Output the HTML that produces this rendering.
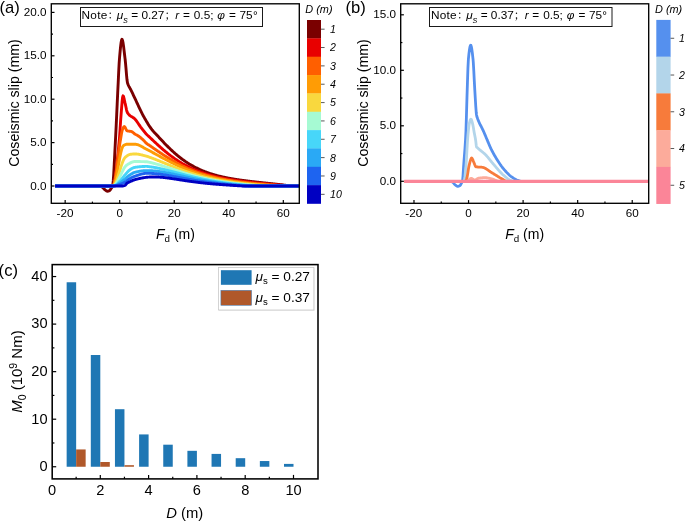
<!DOCTYPE html>
<html><head><meta charset="utf-8"><title>figure</title>
<style>html,body{margin:0;padding:0;background:#fff}svg{display:block;will-change:transform}</style></head>
<body>
<svg width="685" height="522" viewBox="0 0 685 522" font-family="'Liberation Sans', 'Noto Sans CJK SC', sans-serif" fill="#000">
<rect width="685" height="522" fill="#fff"/>
<defs><clipPath id="ca"><rect x="51.30" y="3.80" width="248.00" height="199.50"/></clipPath><clipPath id="cb"><rect x="400.70" y="3.80" width="248.00" height="199.50"/></clipPath></defs>
<g clip-path="url(#ca)">
<path d="M55.07 186.00 L99.79 186.00 L100.07 186.02 L100.56 186.15 L101.05 186.37 L101.54 186.65 L102.02 186.97 L102.51 187.30 L102.52 187.30 L103.00 187.71 L103.49 188.24 L103.98 188.82 L104.47 189.37 L104.96 189.81 L104.97 189.82 L105.45 190.17 L105.94 190.53 L106.43 190.85 L106.92 191.09 L107.41 191.20 L107.51 191.21 L107.89 191.18 L108.38 191.06 L108.87 190.88 L109.36 190.65 L109.61 190.51 L109.85 190.34 L110.34 189.75 L110.83 189.00 L111.25 188.34 L111.32 188.24 L111.81 187.58 L112.30 186.76 L112.61 186.00 L112.79 185.24 L113.27 180.66 L113.76 173.28 L114.25 164.11 L114.74 154.20 L115.23 144.55 L115.34 142.60 L115.72 135.32 L116.21 125.24 L116.70 114.61 L117.19 103.83 L117.68 93.27 L118.06 85.31 L118.17 83.25 L118.65 72.79 L119.14 63.32 L119.43 59.27 L119.63 56.88 L120.12 51.34 L120.61 46.37 L121.10 42.42 L121.59 39.94 L121.96 39.31 L122.08 39.35 L122.57 40.48 L123.06 42.87 L123.55 46.18 L124.03 50.10 L124.52 54.27 L125.01 58.37 L125.13 59.27 L125.50 62.78 L125.99 68.47 L126.48 74.42 L126.97 79.55 L127.44 82.71 L127.46 82.76 L127.95 84.21 L128.04 84.44 L128.44 85.34 L128.93 86.34 L129.42 87.26 L129.90 88.13 L130.39 89.00 L130.88 89.93 L130.96 90.09 L131.37 90.92 L131.86 91.92 L132.35 92.95 L132.84 93.98 L133.33 95.02 L133.82 96.06 L134.31 97.10 L134.80 98.14 L135.05 98.68 L135.28 99.16 L135.77 100.20 L136.26 101.25 L136.75 102.30 L137.24 103.36 L137.73 104.42 L138.22 105.49 L138.71 106.54 L139.20 107.60 L139.69 108.64 L140.18 109.67 L140.66 110.69 L141.15 111.69 L141.64 112.67 L142.13 113.63 L142.62 114.56 L143.11 115.47 L143.23 115.69 L143.60 116.35 L144.09 117.22 L144.58 118.09 L145.07 118.95 L145.56 119.80 L146.04 120.64 L146.53 121.47 L147.02 122.29 L147.51 123.10 L148.00 123.89 L148.49 124.67 L148.98 125.43 L149.47 126.18 L149.96 126.91 L150.45 127.62 L150.94 128.30 L151.43 128.97 L151.91 129.62 L152.40 130.24 L152.56 130.44 L152.89 130.84 L153.38 131.38 L153.87 131.90 L154.36 132.40 L154.85 132.90 L155.29 133.36 L155.34 133.42 L155.83 133.95 L156.32 134.48 L156.81 135.01 L157.29 135.54 L157.78 136.07 L158.01 136.32 L158.27 136.60 L158.76 137.13 L159.25 137.66 L159.74 138.19 L160.23 138.72 L160.72 139.25 L160.74 139.27 L161.21 139.77 L161.70 140.29 L162.19 140.82 L162.67 141.33 L163.16 141.85 L163.47 142.17 L163.65 142.37 L164.14 142.88 L164.63 143.39 L165.12 143.90 L165.61 144.40 L166.10 144.90 L166.20 145.00 L166.59 145.40 L167.08 145.89 L167.57 146.38 L168.05 146.87 L168.54 147.36 L168.92 147.73 L169.03 147.84 L169.52 148.31 L170.01 148.78 L170.50 149.25 L170.99 149.72 L171.48 150.18 L171.65 150.34 L171.97 150.64 L172.46 151.09 L172.95 151.54 L173.44 151.98 L173.92 152.42 L174.38 152.82 L174.41 152.86 L174.90 153.29 L175.39 153.72 L175.88 154.14 L176.37 154.56 L176.86 154.97 L177.10 155.17 L177.35 155.38 L177.84 155.78 L178.33 156.18 L178.82 156.58 L179.30 156.97 L179.79 157.36 L179.83 157.39 L180.28 157.74 L180.77 158.12 L181.26 158.49 L181.75 158.86 L182.24 159.22 L182.56 159.46 L182.73 159.58 L183.22 159.94 L183.71 160.29 L184.20 160.63 L184.68 160.97 L185.17 161.31 L185.28 161.39 L185.66 161.65 L186.15 161.97 L186.64 162.30 L187.13 162.62 L187.62 162.93 L188.01 163.18 L188.11 163.25 L188.60 163.55 L189.09 163.86 L189.58 164.16 L190.06 164.45 L190.55 164.74 L190.74 164.85 L191.04 165.03 L191.53 165.31 L192.02 165.59 L192.51 165.87 L193.00 166.14 L193.47 166.39 L193.49 166.41 L193.98 166.67 L194.47 166.93 L194.96 167.19 L195.45 167.44 L195.93 167.69 L196.19 167.82 L196.42 167.93 L196.91 168.17 L197.40 168.41 L197.89 168.65 L198.38 168.88 L198.87 169.11 L198.92 169.13 L199.36 169.33 L199.85 169.55 L200.34 169.77 L200.83 169.99 L201.31 170.20 L201.65 170.34 L201.80 170.41 L202.29 170.61 L202.78 170.81 L203.27 171.01 L203.76 171.21 L204.25 171.40 L204.37 171.45 L204.74 171.59 L205.23 171.78 L205.72 171.97 L206.21 172.15 L206.69 172.33 L207.10 172.48 L207.18 172.51 L207.67 172.68 L208.16 172.85 L208.65 173.02 L209.14 173.19 L209.63 173.35 L209.83 173.42 L210.12 173.51 L210.61 173.67 L211.10 173.83 L211.59 173.98 L212.07 174.13 L212.55 174.28 L212.56 174.28 L213.05 174.43 L213.54 174.58 L214.03 174.72 L214.52 174.86 L215.01 175.00 L215.28 175.07 L215.50 175.14 L215.99 175.27 L216.48 175.40 L216.97 175.53 L217.46 175.66 L217.94 175.79 L218.01 175.81 L218.43 175.91 L218.92 176.04 L219.41 176.16 L219.90 176.28 L220.39 176.40 L220.74 176.48 L220.88 176.51 L221.37 176.63 L221.86 176.74 L222.35 176.85 L222.84 176.96 L223.32 177.07 L223.46 177.10 L223.81 177.18 L224.30 177.28 L224.79 177.39 L225.28 177.49 L225.77 177.59 L226.19 177.68 L226.26 177.69 L226.75 177.79 L227.24 177.88 L227.73 177.98 L228.22 178.07 L228.70 178.17 L228.92 178.21 L229.19 178.26 L229.68 178.35 L230.17 178.44 L230.66 178.53 L231.15 178.61 L231.64 178.70 L231.64 178.70 L232.13 178.78 L232.62 178.87 L233.11 178.95 L233.60 179.03 L234.08 179.11 L234.37 179.16 L234.57 179.19 L235.06 179.27 L235.55 179.35 L236.04 179.43 L236.53 179.50 L237.02 179.58 L237.10 179.59 L237.51 179.65 L238.00 179.73 L238.49 179.80 L238.98 179.87 L239.47 179.94 L239.82 179.99 L239.95 180.01 L240.44 180.08 L240.93 180.15 L241.42 180.22 L241.91 180.29 L242.40 180.35 L242.55 180.37 L242.89 180.42 L243.38 180.48 L243.87 180.55 L244.36 180.61 L244.85 180.68 L245.28 180.73 L245.33 180.74 L245.82 180.80 L246.31 180.87 L246.80 180.93 L247.29 180.99 L247.78 181.05 L248.01 181.08 L248.27 181.11 L248.76 181.17 L249.25 181.23 L249.74 181.29 L250.23 181.34 L250.71 181.40 L250.73 181.41 L251.20 181.46 L251.69 181.52 L252.18 181.58 L252.67 181.63 L253.16 181.69 L253.46 181.72 L253.65 181.74 L254.14 181.80 L254.63 181.86 L255.12 181.91 L255.61 181.97 L256.09 182.02 L256.19 182.03 L256.58 182.07 L257.07 182.13 L257.56 182.18 L258.05 182.24 L258.54 182.29 L258.91 182.33 L259.03 182.34 L259.52 182.40 L260.01 182.45 L260.50 182.50 L260.99 182.56 L261.48 182.61 L261.64 182.63 L261.96 182.66 L262.45 182.71 L262.94 182.77 L263.43 182.82 L263.92 182.87 L264.37 182.92 L264.41 182.92 L264.90 182.97 L265.39 183.03 L265.88 183.08 L266.37 183.13 L266.86 183.18 L267.09 183.21 L267.34 183.23 L267.83 183.29 L268.32 183.34 L268.81 183.39 L269.30 183.44 L269.79 183.49 L269.82 183.50 L270.28 183.54 L270.77 183.60 L271.26 183.65 L271.75 183.70 L272.24 183.75 L272.55 183.78 L272.72 183.80 L273.21 183.86 L273.70 183.91 L274.19 183.96 L274.68 184.01 L275.17 184.06 L275.28 184.07 L275.66 184.11 L276.15 184.17 L276.64 184.22 L277.13 184.27 L277.62 184.32 L278.00 184.36 L278.10 184.37 L278.59 184.43 L279.08 184.48 L279.57 184.53 L280.06 184.58 L280.55 184.64 L280.73 184.65 L281.04 184.69 L281.53 184.75 L282.02 184.81 L282.51 184.87 L283.00 184.94 L283.49 185.01 L283.97 185.08 L284.46 185.15 L284.95 185.22 L285.44 185.30 L285.93 185.37 L286.42 185.44 L286.91 185.51 L287.40 185.57 L287.89 185.64 L288.38 185.70 L288.87 185.75 L289.35 185.81 L289.84 185.85 L290.33 185.89 L290.82 185.93 L291.31 185.96 L291.80 185.98 L292.29 185.99 L292.78 186.00 L299.14 186.00" fill="none" stroke="#7A0000" stroke-width="2.90" stroke-linejoin="round" stroke-linecap="butt"/>
<path d="M55.07 186.00 L112.88 186.00 L113.27 185.73 L113.76 184.70 L114.25 182.94 L114.74 180.53 L115.23 177.55 L115.72 174.07 L116.21 170.15 L116.70 165.87 L117.19 161.29 L117.68 156.50 L118.17 151.55 L118.65 146.53 L119.14 141.50 L119.29 140.00 L119.63 135.87 L120.12 128.51 L120.61 120.82 L121.04 115.08 L121.10 114.33 L121.59 108.11 L122.08 102.03 L122.57 97.48 L123.03 95.81 L123.06 95.82 L123.55 96.60 L124.03 98.41 L124.52 100.69 L125.01 102.92 L125.13 103.37 L125.50 104.95 L125.99 107.28 L126.48 109.59 L126.97 111.54 L127.44 112.74 L127.46 112.76 L127.95 113.48 L128.44 114.11 L128.93 114.65 L129.42 115.12 L129.90 115.53 L130.39 115.89 L130.88 116.22 L131.37 116.52 L131.86 116.80 L132.35 117.09 L132.84 117.39 L133.33 117.70 L133.82 118.05 L134.31 118.45 L134.80 118.90 L135.05 119.16 L135.28 119.42 L135.77 119.99 L136.26 120.62 L136.75 121.29 L137.24 121.98 L137.73 122.71 L138.22 123.44 L138.71 124.18 L139.20 124.92 L139.69 125.65 L140.18 126.35 L140.66 127.03 L140.89 127.32 L141.15 127.67 L141.64 128.31 L142.13 128.95 L142.62 129.58 L143.11 130.21 L143.60 130.83 L144.09 131.44 L144.58 132.03 L145.07 132.62 L145.56 133.19 L146.04 133.74 L146.53 134.27 L146.70 134.44 L147.02 134.78 L147.51 135.26 L148.00 135.71 L148.49 136.16 L148.98 136.61 L149.42 137.02 L149.47 137.06 L149.96 137.53 L150.45 137.99 L150.94 138.46 L151.43 138.92 L151.91 139.38 L152.15 139.61 L152.40 139.85 L152.89 140.31 L153.38 140.77 L153.87 141.23 L154.36 141.69 L154.85 142.15 L154.88 142.17 L155.34 142.60 L155.83 143.06 L156.32 143.51 L156.81 143.96 L157.29 144.41 L157.61 144.70 L157.78 144.86 L158.27 145.31 L158.76 145.75 L159.25 146.19 L159.74 146.63 L160.23 147.07 L160.33 147.16 L160.72 147.50 L161.21 147.93 L161.70 148.36 L162.19 148.79 L162.67 149.21 L163.06 149.54 L163.16 149.63 L163.65 150.05 L164.14 150.46 L164.63 150.88 L165.12 151.29 L165.61 151.69 L165.79 151.84 L166.10 152.09 L166.59 152.49 L167.08 152.89 L167.57 153.28 L168.05 153.67 L168.51 154.03 L168.54 154.06 L169.03 154.44 L169.52 154.82 L170.01 155.19 L170.50 155.57 L170.99 155.93 L171.24 156.12 L171.48 156.30 L171.97 156.66 L172.46 157.02 L172.95 157.37 L173.44 157.73 L173.92 158.07 L173.97 158.10 L174.41 158.42 L174.90 158.76 L175.39 159.10 L175.88 159.43 L176.37 159.76 L176.69 159.98 L176.86 160.09 L177.35 160.41 L177.84 160.73 L178.33 161.04 L178.82 161.36 L179.30 161.67 L179.42 161.74 L179.79 161.97 L180.28 162.27 L180.77 162.57 L181.26 162.87 L181.75 163.16 L182.15 163.39 L182.24 163.45 L182.73 163.73 L183.22 164.02 L183.71 164.29 L184.20 164.57 L184.68 164.84 L184.88 164.95 L185.17 165.11 L185.66 165.37 L186.15 165.64 L186.64 165.90 L187.13 166.15 L187.60 166.40 L187.62 166.40 L188.11 166.65 L188.60 166.90 L189.09 167.14 L189.58 167.38 L190.06 167.62 L190.33 167.75 L190.55 167.85 L191.04 168.09 L191.53 168.31 L192.02 168.54 L192.51 168.76 L193.00 168.98 L193.06 169.01 L193.49 169.20 L193.98 169.41 L194.47 169.62 L194.96 169.83 L195.45 170.04 L195.78 170.18 L195.93 170.24 L196.42 170.44 L196.91 170.64 L197.40 170.84 L197.89 171.03 L198.38 171.22 L198.51 171.27 L198.87 171.41 L199.36 171.59 L199.85 171.77 L200.34 171.95 L200.83 172.13 L201.24 172.28 L201.31 172.31 L201.80 172.48 L202.29 172.65 L202.78 172.82 L203.27 172.99 L203.76 173.15 L203.96 173.22 L204.25 173.31 L204.74 173.47 L205.23 173.63 L205.72 173.79 L206.21 173.94 L206.69 174.09 L206.69 174.09 L207.18 174.24 L207.67 174.39 L208.16 174.54 L208.65 174.68 L209.14 174.82 L209.42 174.90 L209.63 174.96 L210.12 175.10 L210.61 175.24 L211.10 175.37 L211.59 175.50 L212.07 175.63 L212.15 175.65 L212.56 175.76 L213.05 175.89 L213.54 176.02 L214.03 176.14 L214.52 176.26 L214.87 176.35 L215.01 176.39 L215.50 176.50 L215.99 176.62 L216.48 176.74 L216.97 176.85 L217.46 176.97 L217.60 177.00 L217.94 177.08 L218.43 177.19 L218.92 177.30 L219.41 177.41 L219.90 177.51 L220.33 177.60 L220.39 177.62 L220.88 177.72 L221.37 177.82 L221.86 177.93 L222.35 178.02 L222.84 178.12 L223.05 178.17 L223.32 178.22 L223.81 178.32 L224.30 178.41 L224.79 178.51 L225.28 178.60 L225.77 178.69 L225.78 178.69 L226.26 178.78 L226.75 178.87 L227.24 178.96 L227.73 179.04 L228.22 179.13 L228.51 179.18 L228.70 179.22 L229.19 179.30 L229.68 179.38 L230.17 179.47 L230.66 179.55 L231.15 179.63 L231.23 179.64 L231.64 179.71 L232.13 179.78 L232.62 179.86 L233.11 179.94 L233.60 180.02 L233.96 180.07 L234.08 180.09 L234.57 180.16 L235.06 180.24 L235.55 180.31 L236.04 180.38 L236.53 180.45 L236.69 180.48 L237.02 180.52 L237.51 180.59 L238.00 180.66 L238.49 180.73 L238.98 180.80 L239.42 180.86 L239.47 180.87 L239.95 180.93 L240.44 181.00 L240.93 181.06 L241.42 181.13 L241.91 181.19 L242.14 181.22 L242.40 181.25 L242.89 181.32 L243.38 181.38 L243.87 181.44 L244.36 181.50 L244.85 181.56 L244.87 181.56 L245.33 181.62 L245.82 181.68 L246.31 181.74 L246.80 181.80 L247.29 181.86 L247.60 181.89 L247.78 181.91 L248.27 181.97 L248.76 182.03 L249.25 182.08 L249.74 182.14 L250.23 182.19 L250.32 182.20 L250.71 182.25 L251.20 182.30 L251.69 182.36 L252.18 182.41 L252.67 182.46 L253.05 182.50 L253.16 182.52 L253.65 182.57 L254.14 182.62 L254.63 182.67 L255.12 182.73 L255.61 182.78 L255.78 182.79 L256.09 182.83 L256.58 182.88 L257.07 182.93 L257.56 182.98 L258.05 183.03 L258.50 183.07 L258.54 183.08 L259.03 183.13 L259.52 183.18 L260.01 183.23 L260.50 183.27 L260.99 183.32 L261.23 183.35 L261.48 183.37 L261.96 183.42 L262.45 183.47 L262.94 183.51 L263.43 183.56 L263.92 183.61 L263.96 183.61 L264.41 183.66 L264.90 183.70 L265.39 183.75 L265.88 183.80 L266.37 183.84 L266.69 183.87 L266.86 183.89 L267.34 183.93 L267.83 183.98 L268.32 184.03 L268.81 184.07 L269.30 184.12 L269.41 184.13 L269.79 184.16 L270.28 184.21 L270.77 184.25 L271.26 184.30 L271.75 184.34 L272.14 184.38 L272.24 184.39 L272.72 184.43 L273.21 184.48 L273.70 184.52 L274.19 184.56 L274.68 184.61 L274.87 184.62 L275.17 184.65 L275.66 184.70 L276.15 184.74 L276.64 184.78 L277.13 184.83 L277.59 184.87 L277.62 184.87 L278.10 184.91 L278.59 184.96 L279.08 185.00 L279.57 185.04 L280.06 185.09 L280.32 185.11 L280.55 185.13 L281.04 185.17 L281.53 185.22 L282.02 185.26 L282.51 185.30 L283.00 185.34 L283.05 185.35 L283.49 185.39 L283.97 185.44 L284.46 185.50 L284.95 185.56 L285.44 185.61 L285.93 185.67 L286.42 185.73 L286.91 185.79 L287.40 185.84 L287.89 185.89 L288.38 185.93 L288.87 185.96 L289.35 185.98 L289.84 186.00 L299.14 186.00" fill="none" stroke="#E80000" stroke-width="2.90" stroke-linejoin="round" stroke-linecap="butt"/>
<path d="M55.07 186.00 L112.88 186.00 L113.27 185.75 L113.76 184.77 L114.25 183.14 L114.74 180.92 L115.23 178.22 L115.72 175.09 L116.21 171.64 L116.70 167.94 L117.19 164.06 L117.68 160.10 L118.17 156.13 L118.65 152.24 L119.14 148.50 L119.63 145.01 L120.12 141.83 L120.44 140.00 L120.61 139.00 L121.10 136.02 L121.59 133.12 L122.08 130.73 L122.43 129.58 L122.57 129.24 L123.06 128.10 L123.55 127.18 L124.03 126.63 L124.31 126.54 L124.52 126.61 L125.01 127.17 L125.50 128.10 L125.99 129.16 L126.48 130.11 L126.97 130.72 L127.12 130.80 L127.46 130.90 L127.95 131.01 L128.44 131.10 L128.93 131.17 L129.42 131.22 L129.90 131.27 L130.39 131.34 L130.88 131.42 L131.37 131.53 L131.54 131.58 L131.86 131.70 L132.35 131.98 L132.84 132.34 L133.33 132.75 L133.82 133.18 L134.31 133.60 L134.80 133.98 L134.97 134.09 L135.28 134.29 L135.77 134.57 L136.26 134.83 L136.75 135.08 L137.24 135.34 L137.73 135.61 L138.22 135.90 L138.52 136.09 L138.71 136.22 L139.20 136.56 L139.69 136.93 L140.18 137.32 L140.66 137.72 L141.15 138.13 L141.64 138.56 L142.13 138.99 L142.62 139.44 L143.11 139.88 L143.23 140.00 L143.60 140.34 L144.09 140.85 L144.58 141.37 L145.07 141.91 L145.56 142.43 L146.04 142.92 L146.53 143.37 L146.70 143.51 L147.02 143.76 L147.51 144.11 L148.00 144.44 L148.49 144.76 L148.98 145.07 L149.42 145.37 L149.47 145.40 L149.96 145.74 L150.45 146.07 L150.94 146.41 L151.43 146.75 L151.91 147.09 L152.15 147.25 L152.40 147.42 L152.89 147.76 L153.38 148.10 L153.87 148.44 L154.36 148.77 L154.85 149.11 L154.88 149.13 L155.34 149.44 L155.83 149.78 L156.32 150.12 L156.81 150.45 L157.29 150.78 L157.61 150.99 L157.78 151.12 L158.27 151.45 L158.76 151.78 L159.25 152.11 L159.74 152.44 L160.23 152.76 L160.33 152.83 L160.72 153.09 L161.21 153.42 L161.70 153.74 L162.19 154.06 L162.67 154.38 L163.06 154.63 L163.16 154.70 L163.65 155.02 L164.14 155.34 L164.63 155.65 L165.12 155.97 L165.61 156.28 L165.79 156.39 L166.10 156.59 L166.59 156.90 L167.08 157.20 L167.57 157.51 L168.05 157.81 L168.51 158.09 L168.54 158.11 L169.03 158.41 L169.52 158.71 L170.01 159.01 L170.50 159.30 L170.99 159.59 L171.24 159.74 L171.48 159.88 L171.97 160.17 L172.46 160.45 L172.95 160.74 L173.44 161.02 L173.92 161.30 L173.97 161.32 L174.41 161.57 L174.90 161.85 L175.39 162.12 L175.88 162.39 L176.37 162.66 L176.69 162.84 L176.86 162.93 L177.35 163.19 L177.84 163.46 L178.33 163.72 L178.82 163.97 L179.30 164.23 L179.42 164.29 L179.79 164.48 L180.28 164.73 L180.77 164.98 L181.26 165.23 L181.75 165.48 L182.15 165.67 L182.24 165.72 L182.73 165.96 L183.22 166.20 L183.71 166.43 L184.20 166.67 L184.68 166.90 L184.88 166.99 L185.17 167.13 L185.66 167.35 L186.15 167.58 L186.64 167.80 L187.13 168.02 L187.60 168.23 L187.62 168.24 L188.11 168.46 L188.60 168.67 L189.09 168.88 L189.58 169.09 L190.06 169.30 L190.33 169.41 L190.55 169.51 L191.04 169.71 L191.53 169.91 L192.02 170.11 L192.51 170.31 L193.00 170.50 L193.06 170.53 L193.49 170.70 L193.98 170.89 L194.47 171.08 L194.96 171.27 L195.45 171.45 L195.78 171.58 L195.93 171.63 L196.42 171.81 L196.91 171.99 L197.40 172.17 L197.89 172.35 L198.38 172.52 L198.51 172.57 L198.87 172.69 L199.36 172.86 L199.85 173.03 L200.34 173.20 L200.83 173.36 L201.24 173.50 L201.31 173.52 L201.80 173.68 L202.29 173.84 L202.78 174.00 L203.27 174.15 L203.76 174.31 L203.96 174.37 L204.25 174.46 L204.74 174.61 L205.23 174.76 L205.72 174.90 L206.21 175.05 L206.69 175.19 L206.69 175.19 L207.18 175.33 L207.67 175.47 L208.16 175.61 L208.65 175.75 L209.14 175.88 L209.42 175.96 L209.63 176.01 L210.12 176.15 L210.61 176.28 L211.10 176.41 L211.59 176.53 L212.07 176.66 L212.15 176.68 L212.56 176.78 L213.05 176.91 L213.54 177.03 L214.03 177.15 L214.52 177.27 L214.87 177.35 L215.01 177.38 L215.50 177.50 L215.99 177.61 L216.48 177.73 L216.97 177.84 L217.46 177.95 L217.60 177.98 L217.94 178.06 L218.43 178.16 L218.92 178.27 L219.41 178.38 L219.90 178.48 L220.33 178.57 L220.39 178.58 L220.88 178.68 L221.37 178.78 L221.86 178.88 L222.35 178.98 L222.84 179.08 L223.05 179.12 L223.32 179.17 L223.81 179.27 L224.30 179.36 L224.79 179.45 L225.28 179.54 L225.77 179.63 L225.78 179.64 L226.26 179.72 L226.75 179.81 L227.24 179.90 L227.73 179.98 L228.22 180.07 L228.51 180.12 L228.70 180.15 L229.19 180.24 L229.68 180.32 L230.17 180.40 L230.66 180.48 L231.15 180.56 L231.23 180.57 L231.64 180.63 L232.13 180.71 L232.62 180.79 L233.11 180.86 L233.60 180.94 L233.96 180.99 L234.08 181.01 L234.57 181.08 L235.06 181.15 L235.55 181.22 L236.04 181.29 L236.53 181.36 L236.69 181.39 L237.02 181.43 L237.51 181.50 L238.00 181.57 L238.49 181.63 L238.98 181.70 L239.42 181.76 L239.47 181.76 L239.95 181.83 L240.44 181.89 L240.93 181.95 L241.42 182.01 L241.91 182.07 L242.14 182.10 L242.40 182.13 L242.89 182.19 L243.38 182.25 L243.87 182.31 L244.36 182.37 L244.85 182.42 L244.87 182.42 L245.33 182.48 L245.82 182.53 L246.31 182.59 L246.80 182.64 L247.29 182.70 L247.60 182.73 L247.78 182.75 L248.27 182.80 L248.76 182.85 L249.25 182.90 L249.74 182.95 L250.23 183.00 L250.32 183.01 L250.71 183.05 L251.20 183.10 L251.69 183.15 L252.18 183.20 L252.67 183.25 L253.05 183.28 L253.16 183.29 L253.65 183.34 L254.14 183.38 L254.63 183.43 L255.12 183.47 L255.61 183.52 L255.78 183.53 L256.09 183.56 L256.58 183.61 L257.07 183.65 L257.56 183.69 L258.05 183.73 L258.50 183.77 L258.54 183.77 L259.03 183.81 L259.52 183.86 L260.01 183.90 L260.50 183.94 L260.99 183.97 L261.23 183.99 L261.48 184.01 L261.96 184.05 L262.45 184.09 L262.94 184.13 L263.43 184.17 L263.92 184.20 L263.96 184.21 L264.41 184.24 L264.90 184.28 L265.39 184.31 L265.88 184.35 L266.37 184.38 L266.69 184.40 L266.86 184.42 L267.34 184.45 L267.83 184.48 L268.32 184.52 L268.81 184.55 L269.30 184.59 L269.41 184.59 L269.79 184.62 L270.28 184.66 L270.77 184.70 L271.26 184.75 L271.75 184.80 L272.24 184.85 L272.72 184.90 L273.21 184.95 L273.70 185.00 L274.19 185.06 L274.68 185.11 L275.17 185.17 L275.66 185.22 L276.15 185.28 L276.64 185.33 L277.13 185.39 L277.62 185.44 L278.10 185.49 L278.59 185.54 L279.08 185.59 L279.57 185.64 L280.06 185.69 L280.55 185.73 L281.04 185.77 L281.53 185.81 L282.02 185.85 L282.51 185.88 L283.00 185.91 L283.49 185.94 L283.97 185.96 L284.46 185.97 L284.95 185.99 L285.44 186.00 L299.14 186.00" fill="none" stroke="#FF5F00" stroke-width="2.90" stroke-linejoin="round" stroke-linecap="butt"/>
<path d="M55.07 186.00 L112.88 186.00 L113.27 185.85 L113.76 185.24 L114.25 184.23 L114.74 182.84 L115.23 181.13 L115.72 179.14 L116.21 176.92 L116.70 174.50 L117.19 171.94 L117.68 169.28 L118.17 166.56 L118.65 163.82 L119.14 161.13 L119.63 158.50 L120.12 156.00 L120.61 153.67 L121.10 151.54 L121.59 149.67 L122.08 148.10 L122.57 146.88 L123.06 146.04 L123.38 145.72 L123.55 145.62 L124.03 145.30 L124.52 145.01 L125.01 144.75 L125.50 144.53 L125.99 144.37 L126.48 144.27 L126.87 144.25 L134.97 144.25 L135.28 144.26 L135.77 144.29 L136.26 144.36 L136.75 144.45 L137.24 144.58 L137.73 144.72 L138.22 144.89 L138.71 145.08 L139.20 145.28 L139.69 145.50 L140.18 145.74 L140.66 145.99 L141.15 146.25 L141.64 146.52 L142.13 146.79 L142.62 147.07 L143.11 147.36 L143.60 147.64 L144.09 147.92 L144.58 148.20 L145.07 148.47 L145.56 148.74 L146.04 149.00 L146.53 149.24 L146.70 149.32 L147.02 149.48 L147.51 149.73 L148.00 149.98 L148.49 150.24 L148.98 150.51 L149.42 150.74 L149.47 150.76 L149.96 151.02 L150.45 151.28 L150.94 151.55 L151.43 151.81 L151.91 152.07 L152.15 152.20 L152.40 152.34 L152.89 152.60 L153.38 152.87 L153.87 153.14 L154.36 153.40 L154.85 153.67 L154.88 153.69 L155.34 153.94 L155.83 154.21 L156.32 154.48 L156.81 154.74 L157.29 155.01 L157.61 155.18 L157.78 155.28 L158.27 155.55 L158.76 155.82 L159.25 156.09 L159.74 156.36 L160.23 156.62 L160.33 156.68 L160.72 156.89 L161.21 157.16 L161.70 157.42 L162.19 157.69 L162.67 157.95 L163.06 158.16 L163.16 158.22 L163.65 158.48 L164.14 158.75 L164.63 159.01 L165.12 159.27 L165.61 159.53 L165.79 159.63 L166.10 159.79 L166.59 160.05 L167.08 160.31 L167.57 160.57 L168.05 160.82 L168.51 161.06 L168.54 161.08 L169.03 161.33 L169.52 161.58 L170.01 161.83 L170.50 162.08 L170.99 162.33 L171.24 162.46 L171.48 162.58 L171.97 162.82 L172.46 163.07 L172.95 163.31 L173.44 163.55 L173.92 163.79 L173.97 163.81 L174.41 164.03 L174.90 164.27 L175.39 164.51 L175.88 164.74 L176.37 164.97 L176.69 165.13 L176.86 165.20 L177.35 165.43 L177.84 165.66 L178.33 165.89 L178.82 166.11 L179.30 166.34 L179.42 166.39 L179.79 166.56 L180.28 166.78 L180.77 167.00 L181.26 167.21 L181.75 167.43 L182.15 167.60 L182.24 167.64 L182.73 167.85 L183.22 168.06 L183.71 168.27 L184.20 168.48 L184.68 168.68 L184.88 168.76 L185.17 168.89 L185.66 169.09 L186.15 169.29 L186.64 169.49 L187.13 169.68 L187.60 169.87 L187.62 169.88 L188.11 170.07 L188.60 170.26 L189.09 170.45 L189.58 170.64 L190.06 170.83 L190.33 170.93 L190.55 171.01 L191.04 171.19 L191.53 171.37 L192.02 171.55 L192.51 171.73 L193.00 171.91 L193.06 171.93 L193.49 172.08 L193.98 172.25 L194.47 172.43 L194.96 172.60 L195.45 172.76 L195.78 172.88 L195.93 172.93 L196.42 173.09 L196.91 173.26 L197.40 173.42 L197.89 173.58 L198.38 173.74 L198.51 173.78 L198.87 173.89 L199.36 174.05 L199.85 174.20 L200.34 174.35 L200.83 174.50 L201.24 174.63 L201.31 174.65 L201.80 174.80 L202.29 174.95 L202.78 175.09 L203.27 175.23 L203.76 175.37 L203.96 175.43 L204.25 175.51 L204.74 175.65 L205.23 175.79 L205.72 175.93 L206.21 176.06 L206.69 176.19 L206.69 176.19 L207.18 176.32 L207.67 176.45 L208.16 176.58 L208.65 176.71 L209.14 176.83 L209.42 176.91 L209.63 176.96 L210.12 177.08 L210.61 177.20 L211.10 177.32 L211.59 177.44 L212.07 177.56 L212.15 177.58 L212.56 177.68 L213.05 177.79 L213.54 177.91 L214.03 178.02 L214.52 178.13 L214.87 178.21 L215.01 178.24 L215.50 178.35 L215.99 178.46 L216.48 178.57 L216.97 178.67 L217.46 178.78 L217.60 178.81 L217.94 178.88 L218.43 178.98 L218.92 179.08 L219.41 179.18 L219.90 179.28 L220.33 179.37 L220.39 179.38 L220.88 179.48 L221.37 179.57 L221.86 179.67 L222.35 179.76 L222.84 179.85 L223.05 179.89 L223.32 179.94 L223.81 180.03 L224.30 180.12 L224.79 180.21 L225.28 180.30 L225.77 180.39 L225.78 180.39 L226.26 180.47 L226.75 180.56 L227.24 180.64 L227.73 180.72 L228.22 180.81 L228.51 180.85 L228.70 180.89 L229.19 180.97 L229.68 181.05 L230.17 181.12 L230.66 181.20 L231.15 181.28 L231.23 181.29 L231.64 181.36 L232.13 181.43 L232.62 181.50 L233.11 181.58 L233.60 181.65 L233.96 181.70 L234.08 181.72 L234.57 181.79 L235.06 181.86 L235.55 181.93 L236.04 182.00 L236.53 182.07 L236.69 182.09 L237.02 182.14 L237.51 182.20 L238.00 182.27 L238.49 182.34 L238.98 182.40 L239.42 182.46 L239.47 182.46 L239.95 182.53 L240.44 182.59 L240.93 182.65 L241.42 182.71 L241.91 182.77 L242.14 182.80 L242.40 182.83 L242.89 182.89 L243.38 182.95 L243.87 183.01 L244.36 183.07 L244.85 183.12 L244.87 183.13 L245.33 183.18 L245.82 183.24 L246.31 183.29 L246.80 183.35 L247.29 183.40 L247.60 183.43 L247.78 183.45 L248.27 183.51 L248.76 183.56 L249.25 183.61 L249.74 183.66 L250.23 183.71 L250.32 183.72 L250.71 183.76 L251.20 183.81 L251.69 183.86 L252.18 183.91 L252.67 183.96 L253.05 184.00 L253.16 184.01 L253.65 184.06 L254.14 184.10 L254.63 184.15 L255.12 184.20 L255.61 184.24 L255.78 184.26 L256.09 184.29 L256.58 184.33 L257.07 184.38 L257.56 184.42 L258.05 184.46 L258.50 184.50 L258.54 184.51 L259.03 184.55 L259.52 184.59 L260.01 184.63 L260.50 184.68 L260.99 184.72 L261.23 184.74 L261.48 184.76 L261.96 184.80 L262.45 184.84 L262.94 184.88 L263.43 184.92 L263.92 184.96 L263.96 184.96 L264.41 184.99 L264.90 185.03 L265.39 185.07 L265.88 185.11 L266.37 185.15 L266.69 185.17 L266.86 185.18 L267.34 185.22 L267.83 185.26 L268.32 185.30 L268.81 185.33 L269.30 185.37 L269.41 185.37 L269.79 185.40 L270.28 185.42 L270.77 185.45 L271.26 185.49 L271.75 185.52 L272.24 185.55 L272.72 185.58 L273.21 185.61 L273.70 185.64 L274.19 185.67 L274.68 185.69 L275.17 185.72 L275.66 185.75 L276.15 185.78 L276.64 185.80 L277.13 185.83 L277.62 185.85 L278.10 185.87 L278.59 185.89 L279.08 185.91 L279.57 185.93 L280.06 185.95 L280.55 185.96 L281.04 185.97 L281.53 185.98 L282.02 185.99 L282.51 186.00 L299.14 186.00" fill="none" stroke="#FF9C05" stroke-width="2.90" stroke-linejoin="round" stroke-linecap="butt"/>
<path d="M55.07 186.00 L112.88 186.00 L113.27 185.93 L113.76 185.63 L114.25 185.13 L114.74 184.44 L115.23 183.59 L115.72 182.57 L116.21 181.43 L116.70 180.16 L117.19 178.79 L117.68 177.34 L118.17 175.83 L118.65 174.27 L119.14 172.67 L119.63 171.07 L120.12 169.46 L120.61 167.89 L121.10 166.35 L121.59 164.86 L122.08 163.46 L122.57 162.14 L123.06 160.94 L123.55 159.86 L124.03 158.93 L124.52 158.16 L125.01 157.58 L125.15 157.44 L125.50 157.14 L125.99 156.72 L126.48 156.32 L126.97 155.94 L127.46 155.58 L127.95 155.26 L128.44 154.98 L128.93 154.74 L129.42 154.54 L129.90 154.40 L130.34 154.32 L130.39 154.31 L130.88 154.25 L131.37 154.19 L131.86 154.14 L132.35 154.09 L132.84 154.05 L133.33 154.02 L133.82 154.00 L134.31 153.98 L134.80 153.97 L135.28 153.97 L135.77 153.99 L136.26 154.01 L136.75 154.05 L137.24 154.10 L137.73 154.16 L138.22 154.23 L138.71 154.30 L139.20 154.39 L139.69 154.48 L140.18 154.58 L140.66 154.68 L141.15 154.79 L141.64 154.91 L142.13 155.03 L142.62 155.15 L143.11 155.28 L143.60 155.41 L144.09 155.54 L144.58 155.67 L145.07 155.80 L145.56 155.93 L146.04 156.06 L146.53 156.19 L146.70 156.24 L147.02 156.33 L147.51 156.48 L148.00 156.65 L148.49 156.83 L148.98 157.01 L149.42 157.17 L149.47 157.19 L149.96 157.36 L150.45 157.54 L150.94 157.72 L151.43 157.90 L151.91 158.08 L152.15 158.17 L152.40 158.26 L152.89 158.45 L153.38 158.63 L153.87 158.82 L154.36 159.01 L154.85 159.20 L154.88 159.21 L155.34 159.39 L155.83 159.58 L156.32 159.77 L156.81 159.97 L157.29 160.16 L157.61 160.29 L157.78 160.36 L158.27 160.55 L158.76 160.75 L159.25 160.95 L159.74 161.14 L160.23 161.34 L160.33 161.39 L160.72 161.54 L161.21 161.74 L161.70 161.94 L162.19 162.14 L162.67 162.34 L163.06 162.50 L163.16 162.54 L163.65 162.74 L164.14 162.94 L164.63 163.14 L165.12 163.35 L165.61 163.55 L165.79 163.62 L166.10 163.75 L166.59 163.95 L167.08 164.15 L167.57 164.35 L168.05 164.55 L168.51 164.74 L168.54 164.75 L169.03 164.95 L169.52 165.15 L170.01 165.34 L170.50 165.54 L170.99 165.74 L171.24 165.84 L171.48 165.94 L171.97 166.13 L172.46 166.33 L172.95 166.53 L173.44 166.72 L173.92 166.91 L173.97 166.93 L174.41 167.11 L174.90 167.30 L175.39 167.49 L175.88 167.68 L176.37 167.87 L176.69 168.00 L176.86 168.06 L177.35 168.25 L177.84 168.44 L178.33 168.63 L178.82 168.81 L179.30 169.00 L179.42 169.04 L179.79 169.18 L180.28 169.36 L180.77 169.55 L181.26 169.73 L181.75 169.91 L182.15 170.05 L182.24 170.09 L182.73 170.26 L183.22 170.44 L183.71 170.62 L184.20 170.79 L184.68 170.97 L184.88 171.03 L185.17 171.14 L185.66 171.31 L186.15 171.48 L186.64 171.65 L187.13 171.82 L187.60 171.98 L187.62 171.98 L188.11 172.15 L188.60 172.31 L189.09 172.48 L189.58 172.64 L190.06 172.80 L190.33 172.89 L190.55 172.96 L191.04 173.12 L191.53 173.27 L192.02 173.43 L192.51 173.58 L193.00 173.74 L193.06 173.75 L193.49 173.89 L193.98 174.04 L194.47 174.19 L194.96 174.34 L195.45 174.49 L195.78 174.59 L195.93 174.63 L196.42 174.78 L196.91 174.92 L197.40 175.06 L197.89 175.20 L198.38 175.34 L198.51 175.38 L198.87 175.48 L199.36 175.62 L199.85 175.75 L200.34 175.89 L200.83 176.02 L201.24 176.13 L201.31 176.15 L201.80 176.28 L202.29 176.41 L202.78 176.54 L203.27 176.67 L203.76 176.80 L203.96 176.85 L204.25 176.92 L204.74 177.04 L205.23 177.17 L205.72 177.29 L206.21 177.41 L206.69 177.53 L206.69 177.53 L207.18 177.64 L207.67 177.76 L208.16 177.88 L208.65 177.99 L209.14 178.10 L209.42 178.17 L209.63 178.22 L210.12 178.33 L210.61 178.44 L211.10 178.54 L211.59 178.65 L212.07 178.76 L212.15 178.77 L212.56 178.86 L213.05 178.97 L213.54 179.07 L214.03 179.17 L214.52 179.27 L214.87 179.34 L215.01 179.37 L215.50 179.47 L215.99 179.57 L216.48 179.66 L216.97 179.76 L217.46 179.85 L217.60 179.88 L217.94 179.95 L218.43 180.04 L218.92 180.13 L219.41 180.22 L219.90 180.31 L220.33 180.39 L220.39 180.40 L220.88 180.49 L221.37 180.57 L221.86 180.66 L222.35 180.75 L222.84 180.83 L223.05 180.87 L223.32 180.91 L223.81 180.99 L224.30 181.07 L224.79 181.15 L225.28 181.23 L225.77 181.31 L225.78 181.31 L226.26 181.39 L226.75 181.47 L227.24 181.54 L227.73 181.62 L228.22 181.69 L228.51 181.73 L228.70 181.76 L229.19 181.84 L229.68 181.91 L230.17 181.98 L230.66 182.05 L231.15 182.12 L231.23 182.13 L231.64 182.18 L232.13 182.25 L232.62 182.32 L233.11 182.38 L233.60 182.45 L233.96 182.50 L234.08 182.51 L234.57 182.58 L235.06 182.64 L235.55 182.70 L236.04 182.76 L236.53 182.82 L236.69 182.84 L237.02 182.88 L237.51 182.94 L238.00 183.00 L238.49 183.06 L238.98 183.12 L239.42 183.17 L239.47 183.17 L239.95 183.23 L240.44 183.29 L240.93 183.34 L241.42 183.39 L241.91 183.45 L242.14 183.47 L242.40 183.50 L242.89 183.55 L243.38 183.60 L243.87 183.66 L244.36 183.71 L244.85 183.76 L244.87 183.76 L245.33 183.80 L245.82 183.85 L246.31 183.90 L246.80 183.95 L247.29 184.00 L247.60 184.03 L247.78 184.04 L248.27 184.09 L248.76 184.13 L249.25 184.18 L249.74 184.22 L250.23 184.27 L250.32 184.28 L250.71 184.31 L251.20 184.35 L251.69 184.39 L252.18 184.44 L252.67 184.48 L253.05 184.51 L253.16 184.52 L253.65 184.56 L254.14 184.60 L254.63 184.64 L255.12 184.68 L255.61 184.72 L255.78 184.73 L256.09 184.75 L256.58 184.79 L257.07 184.83 L257.56 184.86 L258.05 184.90 L258.50 184.93 L258.54 184.94 L259.03 184.97 L259.52 185.01 L260.01 185.04 L260.50 185.08 L260.99 185.11 L261.23 185.13 L261.48 185.14 L261.96 185.18 L262.45 185.21 L262.94 185.24 L263.43 185.27 L263.92 185.31 L263.96 185.31 L264.41 185.34 L264.90 185.37 L265.39 185.40 L265.88 185.43 L266.37 185.46 L266.69 185.48 L266.86 185.49 L267.34 185.52 L267.83 185.55 L268.32 185.58 L268.81 185.61 L269.30 185.63 L269.41 185.64 L269.79 185.65 L270.28 185.67 L270.77 185.69 L271.26 185.71 L271.75 185.73 L272.24 185.75 L272.72 185.76 L273.21 185.78 L273.70 185.80 L274.19 185.82 L274.68 185.83 L275.17 185.85 L275.66 185.87 L276.15 185.88 L276.64 185.89 L277.13 185.91 L277.62 185.92 L278.10 185.93 L278.59 185.94 L279.08 185.95 L279.57 185.96 L280.06 185.97 L280.55 185.98 L281.04 185.99 L281.53 185.99 L299.14 186.00" fill="none" stroke="#F9D83E" stroke-width="2.90" stroke-linejoin="round" stroke-linecap="butt"/>
<path d="M55.07 186.00 L112.88 186.00 L113.27 185.96 L113.76 185.79 L114.25 185.51 L114.74 185.12 L115.23 184.63 L115.72 184.05 L116.21 183.38 L116.70 182.65 L117.19 181.84 L117.68 180.98 L118.17 180.06 L118.65 179.11 L119.14 178.13 L119.63 177.12 L120.12 176.10 L120.61 175.07 L121.10 174.04 L121.59 173.02 L122.08 172.02 L122.57 171.05 L123.06 170.11 L123.55 169.22 L124.03 168.38 L124.52 167.60 L125.01 166.90 L125.50 166.27 L125.99 165.73 L126.48 165.28 L126.87 164.99 L126.97 164.93 L127.46 164.62 L127.95 164.31 L128.44 164.01 L128.93 163.71 L129.42 163.42 L129.90 163.14 L130.39 162.88 L130.88 162.63 L131.37 162.41 L131.86 162.20 L132.35 162.01 L132.84 161.85 L133.33 161.72 L133.82 161.62 L134.31 161.56 L134.80 161.52 L137.73 161.53 L138.22 161.54 L138.71 161.54 L139.20 161.55 L139.69 161.56 L140.18 161.57 L140.66 161.58 L141.15 161.59 L141.64 161.60 L142.13 161.61 L142.62 161.62 L143.11 161.63 L143.60 161.65 L144.09 161.67 L144.58 161.68 L145.07 161.70 L145.56 161.72 L146.04 161.74 L146.53 161.76 L146.70 161.77 L147.02 161.79 L147.51 161.87 L148.00 161.97 L148.49 162.08 L148.98 162.20 L149.42 162.30 L149.47 162.31 L149.96 162.42 L150.45 162.53 L150.94 162.64 L151.43 162.75 L151.91 162.87 L152.15 162.93 L152.40 162.99 L152.89 163.11 L153.38 163.23 L153.87 163.36 L154.36 163.48 L154.85 163.61 L154.88 163.62 L155.34 163.75 L155.83 163.88 L156.32 164.02 L156.81 164.15 L157.29 164.29 L157.61 164.38 L157.78 164.43 L158.27 164.58 L158.76 164.72 L159.25 164.86 L159.74 165.01 L160.23 165.16 L160.33 165.19 L160.72 165.31 L161.21 165.46 L161.70 165.61 L162.19 165.76 L162.67 165.92 L163.06 166.04 L163.16 166.07 L163.65 166.23 L164.14 166.38 L164.63 166.54 L165.12 166.70 L165.61 166.85 L165.79 166.91 L166.10 167.01 L166.59 167.17 L167.08 167.33 L167.57 167.49 L168.05 167.65 L168.51 167.80 L168.54 167.81 L169.03 167.97 L169.52 168.13 L170.01 168.29 L170.50 168.46 L170.99 168.62 L171.24 168.70 L171.48 168.78 L171.97 168.94 L172.46 169.10 L172.95 169.26 L173.44 169.42 L173.92 169.58 L173.97 169.60 L174.41 169.74 L174.90 169.91 L175.39 170.07 L175.88 170.23 L176.37 170.38 L176.69 170.49 L176.86 170.54 L177.35 170.70 L177.84 170.86 L178.33 171.02 L178.82 171.18 L179.30 171.33 L179.42 171.37 L179.79 171.49 L180.28 171.64 L180.77 171.80 L181.26 171.95 L181.75 172.11 L182.15 172.23 L182.24 172.26 L182.73 172.41 L183.22 172.56 L183.71 172.71 L184.20 172.86 L184.68 173.01 L184.88 173.07 L185.17 173.16 L185.66 173.31 L186.15 173.46 L186.64 173.60 L187.13 173.75 L187.60 173.89 L187.62 173.89 L188.11 174.03 L188.60 174.18 L189.09 174.32 L189.58 174.46 L190.06 174.60 L190.33 174.67 L190.55 174.74 L191.04 174.88 L191.53 175.01 L192.02 175.15 L192.51 175.28 L193.00 175.42 L193.06 175.43 L193.49 175.55 L193.98 175.68 L194.47 175.81 L194.96 175.94 L195.45 176.07 L195.78 176.16 L195.93 176.20 L196.42 176.33 L196.91 176.45 L197.40 176.58 L197.89 176.70 L198.38 176.82 L198.51 176.86 L198.87 176.95 L199.36 177.07 L199.85 177.19 L200.34 177.30 L200.83 177.42 L201.24 177.52 L201.31 177.54 L201.80 177.66 L202.29 177.77 L202.78 177.88 L203.27 178.00 L203.76 178.11 L203.96 178.15 L204.25 178.22 L204.74 178.33 L205.23 178.44 L205.72 178.54 L206.21 178.65 L206.69 178.76 L206.69 178.76 L207.18 178.86 L207.67 178.96 L208.16 179.07 L208.65 179.17 L209.14 179.27 L209.42 179.33 L209.63 179.37 L210.12 179.47 L210.61 179.57 L211.10 179.66 L211.59 179.76 L212.07 179.85 L212.15 179.87 L212.56 179.95 L213.05 180.04 L213.54 180.13 L214.03 180.22 L214.52 180.32 L214.87 180.38 L215.01 180.40 L215.50 180.49 L215.99 180.58 L216.48 180.67 L216.97 180.75 L217.46 180.84 L217.60 180.86 L217.94 180.92 L218.43 181.01 L218.92 181.09 L219.41 181.17 L219.90 181.25 L220.33 181.32 L220.39 181.33 L220.88 181.41 L221.37 181.49 L221.86 181.57 L222.35 181.64 L222.84 181.72 L223.05 181.75 L223.32 181.79 L223.81 181.87 L224.30 181.94 L224.79 182.02 L225.28 182.09 L225.77 182.16 L225.78 182.16 L226.26 182.23 L226.75 182.30 L227.24 182.37 L227.73 182.44 L228.22 182.51 L228.51 182.55 L228.70 182.57 L229.19 182.64 L229.68 182.70 L230.17 182.77 L230.66 182.83 L231.15 182.90 L231.23 182.91 L231.64 182.96 L232.13 183.02 L232.62 183.08 L233.11 183.15 L233.60 183.21 L233.96 183.25 L234.08 183.27 L234.57 183.33 L235.06 183.38 L235.55 183.44 L236.04 183.50 L236.53 183.56 L236.69 183.57 L237.02 183.61 L237.51 183.67 L238.00 183.72 L238.49 183.78 L238.98 183.83 L239.42 183.88 L239.47 183.89 L239.95 183.94 L240.44 183.99 L240.93 184.04 L241.42 184.09 L241.91 184.15 L242.14 184.17 L242.40 184.20 L242.89 184.25 L243.38 184.29 L243.87 184.34 L244.36 184.39 L244.85 184.44 L244.87 184.44 L245.33 184.49 L245.82 184.53 L246.31 184.58 L246.80 184.63 L247.29 184.67 L247.60 184.70 L247.78 184.72 L248.27 184.76 L248.76 184.81 L249.25 184.85 L249.74 184.89 L250.23 184.94 L250.32 184.94 L250.71 184.98 L251.20 185.02 L251.69 185.06 L252.18 185.10 L252.67 185.14 L253.05 185.18 L253.16 185.19 L253.65 185.23 L254.14 185.27 L254.63 185.31 L255.12 185.34 L255.61 185.38 L255.78 185.40 L256.09 185.42 L256.58 185.46 L257.07 185.50 L257.56 185.53 L258.05 185.57 L258.50 185.61 L258.54 185.61 L259.03 185.65 L259.52 185.69 L260.01 185.73 L260.50 185.77 L260.99 185.80 L261.23 185.80 L261.48 185.81 L261.96 185.82 L262.45 185.83 L262.94 185.84 L263.43 185.85 L263.92 185.86 L264.41 185.87 L264.90 185.88 L265.39 185.89 L265.88 185.90 L266.37 185.91 L266.86 185.92 L267.34 185.92 L267.83 185.93 L268.32 185.94 L268.81 185.94 L269.30 185.95 L269.79 185.96 L270.28 185.96 L270.77 185.97 L271.26 185.97 L271.75 185.97 L299.14 186.00" fill="none" stroke="#A6FAD3" stroke-width="2.90" stroke-linejoin="round" stroke-linecap="butt"/>
<path d="M55.07 186.00 L112.88 186.00 L113.27 185.98 L113.76 185.91 L114.25 185.78 L114.74 185.60 L115.23 185.37 L115.72 185.09 L116.21 184.77 L116.70 184.41 L117.19 184.01 L117.68 183.58 L118.17 183.12 L118.65 182.63 L119.14 182.11 L119.63 181.57 L120.12 181.01 L120.61 180.43 L121.10 179.84 L121.59 179.23 L122.08 178.62 L122.57 178.00 L123.06 177.38 L123.55 176.76 L124.03 176.14 L124.52 175.52 L125.01 174.91 L125.50 174.32 L125.99 173.74 L126.48 173.17 L126.97 172.63 L127.46 172.11 L127.88 171.68 L127.95 171.61 L128.44 171.08 L128.93 170.56 L129.24 170.29 L129.42 170.16 L129.90 169.81 L130.39 169.47 L130.88 169.14 L131.37 168.83 L131.86 168.54 L132.35 168.27 L132.84 168.02 L133.33 167.81 L133.82 167.62 L134.31 167.48 L134.80 167.37 L134.97 167.34 L135.28 167.29 L135.77 167.22 L136.26 167.15 L136.75 167.09 L137.24 167.02 L137.73 166.96 L138.22 166.90 L138.71 166.85 L139.20 166.80 L139.69 166.75 L140.18 166.70 L140.66 166.66 L141.15 166.62 L141.64 166.58 L142.13 166.55 L142.62 166.52 L143.11 166.49 L143.60 166.47 L144.09 166.45 L144.58 166.43 L145.07 166.42 L145.56 166.41 L146.04 166.40 L146.70 166.40 L147.02 166.40 L147.51 166.44 L148.00 166.50 L148.49 166.57 L148.98 166.64 L149.42 166.70 L149.47 166.70 L149.96 166.76 L150.45 166.83 L150.94 166.90 L151.43 166.97 L151.91 167.04 L152.15 167.08 L152.40 167.11 L152.89 167.19 L153.38 167.27 L153.87 167.35 L154.36 167.44 L154.85 167.52 L154.88 167.53 L155.34 167.61 L155.83 167.70 L156.32 167.79 L156.81 167.88 L157.29 167.98 L157.61 168.04 L157.78 168.08 L158.27 168.17 L158.76 168.28 L159.25 168.38 L159.74 168.48 L160.23 168.59 L160.33 168.61 L160.72 168.69 L161.21 168.80 L161.70 168.91 L162.19 169.02 L162.67 169.13 L163.06 169.22 L163.16 169.25 L163.65 169.36 L164.14 169.48 L164.63 169.59 L165.12 169.71 L165.61 169.83 L165.79 169.87 L166.10 169.95 L166.59 170.07 L167.08 170.19 L167.57 170.31 L168.05 170.43 L168.51 170.55 L168.54 170.56 L169.03 170.68 L169.52 170.81 L170.01 170.93 L170.50 171.06 L170.99 171.18 L171.24 171.25 L171.48 171.31 L171.97 171.44 L172.46 171.57 L172.95 171.69 L173.44 171.82 L173.92 171.95 L173.97 171.96 L174.41 172.08 L174.90 172.21 L175.39 172.34 L175.88 172.47 L176.37 172.60 L176.69 172.68 L176.86 172.73 L177.35 172.86 L177.84 172.99 L178.33 173.12 L178.82 173.25 L179.30 173.38 L179.42 173.41 L179.79 173.50 L180.28 173.63 L180.77 173.76 L181.26 173.89 L181.75 174.02 L182.15 174.13 L182.24 174.15 L182.73 174.28 L183.22 174.41 L183.71 174.53 L184.20 174.66 L184.68 174.79 L184.88 174.84 L185.17 174.91 L185.66 175.04 L186.15 175.16 L186.64 175.29 L187.13 175.41 L187.60 175.53 L187.62 175.54 L188.11 175.66 L188.60 175.79 L189.09 175.91 L189.58 176.03 L190.06 176.15 L190.33 176.22 L190.55 176.27 L191.04 176.39 L191.53 176.51 L192.02 176.63 L192.51 176.75 L193.00 176.87 L193.06 176.88 L193.49 176.98 L193.98 177.10 L194.47 177.22 L194.96 177.33 L195.45 177.44 L195.78 177.52 L195.93 177.56 L196.42 177.67 L196.91 177.78 L197.40 177.89 L197.89 178.00 L198.38 178.11 L198.51 178.14 L198.87 178.22 L199.36 178.33 L199.85 178.44 L200.34 178.54 L200.83 178.65 L201.24 178.74 L201.31 178.76 L201.80 178.86 L202.29 178.96 L202.78 179.06 L203.27 179.17 L203.76 179.27 L203.96 179.31 L204.25 179.37 L204.74 179.47 L205.23 179.56 L205.72 179.66 L206.21 179.76 L206.69 179.85 L206.69 179.85 L207.18 179.95 L207.67 180.04 L208.16 180.14 L208.65 180.23 L209.14 180.32 L209.42 180.37 L209.63 180.41 L210.12 180.50 L210.61 180.59 L211.10 180.68 L211.59 180.77 L212.07 180.85 L212.15 180.87 L212.56 180.94 L213.05 181.02 L213.54 181.11 L214.03 181.19 L214.52 181.27 L214.87 181.33 L215.01 181.35 L215.50 181.44 L215.99 181.52 L216.48 181.59 L216.97 181.67 L217.46 181.75 L217.60 181.77 L217.94 181.83 L218.43 181.90 L218.92 181.98 L219.41 182.05 L219.90 182.13 L220.33 182.19 L220.39 182.20 L220.88 182.27 L221.37 182.34 L221.86 182.41 L222.35 182.48 L222.84 182.55 L223.05 182.58 L223.32 182.62 L223.81 182.69 L224.30 182.75 L224.79 182.82 L225.28 182.88 L225.77 182.95 L225.78 182.95 L226.26 183.01 L226.75 183.08 L227.24 183.14 L227.73 183.20 L228.22 183.26 L228.51 183.30 L228.70 183.32 L229.19 183.38 L229.68 183.44 L230.17 183.50 L230.66 183.55 L231.15 183.61 L231.23 183.62 L231.64 183.67 L232.13 183.72 L232.62 183.78 L233.11 183.83 L233.60 183.89 L233.96 183.93 L234.08 183.94 L234.57 183.99 L235.06 184.04 L235.55 184.09 L236.04 184.14 L236.53 184.19 L236.69 184.21 L237.02 184.24 L237.51 184.29 L238.00 184.34 L238.49 184.39 L238.98 184.43 L239.42 184.48 L239.47 184.48 L239.95 184.53 L240.44 184.58 L240.93 184.63 L241.42 184.68 L241.91 184.74 L242.40 184.80 L242.89 184.85 L243.38 184.91 L243.87 184.97 L244.36 185.03 L244.85 185.09 L245.33 185.15 L245.82 185.21 L246.31 185.27 L246.80 185.33 L247.29 185.38 L247.78 185.44 L248.27 185.50 L248.76 185.55 L249.25 185.60 L249.74 185.65 L250.23 185.70 L250.71 185.74 L251.20 185.78 L251.69 185.82 L252.18 185.86 L252.67 185.89 L253.16 185.92 L253.65 185.94 L254.14 185.96 L254.63 185.98 L255.12 185.99 L255.61 186.00 L299.14 186.00" fill="none" stroke="#47D6F9" stroke-width="2.90" stroke-linejoin="round" stroke-linecap="butt"/>
<path d="M55.07 186.00 L112.88 186.00 L113.27 185.99 L113.76 185.94 L114.25 185.86 L114.74 185.74 L115.23 185.59 L115.72 185.41 L116.21 185.21 L116.70 184.98 L117.19 184.72 L117.68 184.45 L118.17 184.15 L118.65 183.84 L119.14 183.51 L119.63 183.17 L120.12 182.82 L120.61 182.45 L121.10 182.08 L121.59 181.71 L122.08 181.33 L122.57 180.94 L123.06 180.56 L123.55 180.18 L124.03 179.81 L124.52 179.44 L125.01 179.08 L125.04 179.06 L125.50 178.70 L125.99 178.26 L126.48 177.79 L126.97 177.31 L127.46 176.84 L127.95 176.40 L128.44 176.00 L128.54 175.93 L128.93 175.65 L129.42 175.31 L129.90 174.96 L130.39 174.62 L130.88 174.29 L131.37 173.97 L131.86 173.67 L132.35 173.38 L132.84 173.12 L133.33 172.88 L133.82 172.67 L134.31 172.48 L134.80 172.33 L134.97 172.29 L135.28 172.21 L135.77 172.09 L136.26 171.98 L136.75 171.87 L137.24 171.76 L137.73 171.65 L138.22 171.55 L138.71 171.45 L139.20 171.36 L139.69 171.27 L140.18 171.18 L140.66 171.10 L141.15 171.03 L141.64 170.96 L142.13 170.89 L142.62 170.83 L143.11 170.78 L143.60 170.73 L144.09 170.69 L144.58 170.66 L145.07 170.63 L145.56 170.61 L146.04 170.59 L146.53 170.59 L147.02 170.59 L147.51 170.59 L148.00 170.60 L148.49 170.61 L148.98 170.62 L149.42 170.63 L149.47 170.63 L149.96 170.65 L150.45 170.67 L150.94 170.70 L151.43 170.73 L151.91 170.76 L152.15 170.77 L152.40 170.79 L152.89 170.83 L153.38 170.87 L153.87 170.91 L154.36 170.95 L154.85 171.00 L154.88 171.00 L155.34 171.05 L155.83 171.10 L156.32 171.15 L156.81 171.21 L157.29 171.27 L157.61 171.31 L157.78 171.33 L158.27 171.39 L158.76 171.46 L159.25 171.53 L159.74 171.60 L160.23 171.67 L160.33 171.68 L160.72 171.74 L161.21 171.81 L161.70 171.89 L162.19 171.97 L162.67 172.05 L163.06 172.11 L163.16 172.13 L163.65 172.21 L164.14 172.30 L164.63 172.39 L165.12 172.47 L165.61 172.56 L165.79 172.60 L166.10 172.65 L166.59 172.74 L167.08 172.84 L167.57 172.93 L168.05 173.03 L168.51 173.12 L168.54 173.12 L169.03 173.22 L169.52 173.32 L170.01 173.42 L170.50 173.52 L170.99 173.62 L171.24 173.67 L171.48 173.72 L171.97 173.82 L172.46 173.92 L172.95 174.03 L173.44 174.13 L173.92 174.23 L173.97 174.24 L174.41 174.34 L174.90 174.44 L175.39 174.55 L175.88 174.66 L176.37 174.76 L176.69 174.83 L176.86 174.87 L177.35 174.98 L177.84 175.08 L178.33 175.19 L178.82 175.30 L179.30 175.41 L179.42 175.43 L179.79 175.51 L180.28 175.62 L180.77 175.73 L181.26 175.84 L181.75 175.95 L182.15 176.03 L182.24 176.05 L182.73 176.16 L183.22 176.27 L183.71 176.38 L184.20 176.49 L184.68 176.59 L184.88 176.63 L185.17 176.70 L185.66 176.81 L186.15 176.91 L186.64 177.02 L187.13 177.12 L187.60 177.23 L187.62 177.23 L188.11 177.34 L188.60 177.44 L189.09 177.54 L189.58 177.65 L190.06 177.75 L190.33 177.81 L190.55 177.86 L191.04 177.96 L191.53 178.06 L192.02 178.16 L192.51 178.26 L193.00 178.36 L193.06 178.38 L193.49 178.47 L193.98 178.57 L194.47 178.66 L194.96 178.76 L195.45 178.86 L195.78 178.93 L195.93 178.96 L196.42 179.06 L196.91 179.15 L197.40 179.25 L197.89 179.34 L198.38 179.44 L198.51 179.46 L198.87 179.53 L199.36 179.62 L199.85 179.72 L200.34 179.81 L200.83 179.90 L201.24 179.98 L201.31 179.99 L201.80 180.08 L202.29 180.17 L202.78 180.26 L203.27 180.35 L203.76 180.44 L203.96 180.47 L204.25 180.52 L204.74 180.61 L205.23 180.69 L205.72 180.78 L206.21 180.86 L206.69 180.94 L206.69 180.95 L207.18 181.03 L207.67 181.11 L208.16 181.19 L208.65 181.27 L209.14 181.35 L209.42 181.40 L209.63 181.43 L210.12 181.51 L210.61 181.59 L211.10 181.66 L211.59 181.74 L212.07 181.82 L212.15 181.83 L212.56 181.89 L213.05 181.97 L213.54 182.04 L214.03 182.11 L214.52 182.19 L214.87 182.24 L215.01 182.26 L215.50 182.33 L215.99 182.40 L216.48 182.47 L216.97 182.54 L217.46 182.61 L217.60 182.63 L217.94 182.67 L218.43 182.74 L218.92 182.81 L219.41 182.87 L219.90 182.94 L220.33 183.00 L220.39 183.00 L220.88 183.07 L221.37 183.13 L221.86 183.19 L222.35 183.26 L222.84 183.32 L223.05 183.35 L223.32 183.38 L223.81 183.44 L224.30 183.50 L224.79 183.56 L225.28 183.62 L225.77 183.68 L225.78 183.68 L226.26 183.73 L226.75 183.79 L227.24 183.85 L227.73 183.90 L228.22 183.96 L228.51 183.99 L228.70 184.01 L229.19 184.07 L229.68 184.12 L230.17 184.17 L230.66 184.23 L231.15 184.28 L231.23 184.29 L231.64 184.33 L232.13 184.38 L232.62 184.43 L233.11 184.48 L233.60 184.53 L233.96 184.57 L234.08 184.58 L234.57 184.63 L235.06 184.68 L235.55 184.73 L236.04 184.77 L236.53 184.82 L236.69 184.83 L237.02 184.87 L237.51 184.91 L238.00 184.96 L238.49 185.00 L238.98 185.05 L239.42 185.09 L239.47 185.09 L239.95 185.13 L240.44 185.18 L240.93 185.23 L241.42 185.28 L241.91 185.33 L242.40 185.39 L242.89 185.44 L243.38 185.49 L243.87 185.55 L244.36 185.60 L244.85 185.65 L245.33 185.70 L245.82 185.74 L246.31 185.79 L246.80 185.83 L247.29 185.87 L247.78 185.90 L248.27 185.93 L248.76 185.96 L249.25 185.98 L249.74 185.99 L250.23 186.00 L299.14 186.00" fill="none" stroke="#2AA9F5" stroke-width="2.90" stroke-linejoin="round" stroke-linecap="butt"/>
<path d="M55.07 186.00 L112.88 186.00 L113.27 185.99 L113.76 185.97 L114.25 185.93 L114.74 185.87 L115.23 185.80 L115.72 185.71 L116.21 185.60 L116.70 185.49 L117.19 185.36 L117.68 185.21 L118.17 185.06 L118.65 184.89 L119.14 184.72 L119.63 184.53 L120.12 184.34 L120.61 184.14 L121.10 183.93 L121.59 183.72 L122.08 183.50 L122.57 183.28 L123.06 183.05 L123.55 182.82 L124.03 182.58 L124.52 182.35 L125.01 182.11 L125.04 182.09 L125.50 181.84 L125.99 181.50 L126.48 181.11 L126.97 180.70 L127.46 180.29 L127.95 179.90 L128.44 179.55 L128.54 179.49 L128.93 179.25 L129.42 178.95 L129.90 178.66 L130.39 178.38 L130.88 178.10 L131.37 177.83 L131.86 177.58 L132.35 177.33 L132.84 177.10 L133.33 176.88 L133.82 176.68 L134.31 176.49 L134.43 176.45 L134.80 176.32 L135.28 176.15 L135.77 175.97 L136.26 175.79 L136.75 175.62 L137.24 175.44 L137.73 175.27 L138.22 175.10 L138.71 174.94 L139.20 174.78 L139.69 174.62 L140.18 174.47 L140.66 174.32 L141.15 174.19 L141.64 174.06 L142.13 173.94 L142.62 173.82 L143.11 173.72 L143.60 173.63 L144.09 173.55 L144.58 173.48 L145.07 173.43 L145.56 173.39 L146.04 173.36 L146.53 173.34 L149.47 173.35 L149.96 173.35 L150.45 173.37 L150.94 173.39 L151.43 173.41 L151.91 173.43 L152.15 173.44 L152.40 173.46 L152.89 173.49 L153.38 173.52 L153.87 173.55 L154.36 173.59 L154.85 173.63 L154.88 173.63 L155.34 173.67 L155.83 173.71 L156.32 173.76 L156.81 173.81 L157.29 173.86 L157.61 173.90 L157.78 173.91 L158.27 173.97 L158.76 174.03 L159.25 174.09 L159.74 174.15 L160.23 174.21 L160.33 174.23 L160.72 174.28 L161.21 174.34 L161.70 174.41 L162.19 174.48 L162.67 174.55 L163.06 174.61 L163.16 174.63 L163.65 174.70 L164.14 174.77 L164.63 174.85 L165.12 174.93 L165.61 175.01 L165.79 175.04 L166.10 175.09 L166.59 175.17 L167.08 175.25 L167.57 175.34 L168.05 175.42 L168.51 175.50 L168.54 175.51 L169.03 175.59 L169.52 175.68 L170.01 175.77 L170.50 175.86 L170.99 175.94 L171.24 175.99 L171.48 176.03 L171.97 176.12 L172.46 176.21 L172.95 176.31 L173.44 176.40 L173.92 176.49 L173.97 176.50 L174.41 176.58 L174.90 176.67 L175.39 176.76 L175.88 176.86 L176.37 176.95 L176.69 177.01 L176.86 177.04 L177.35 177.13 L177.84 177.23 L178.33 177.32 L178.82 177.41 L179.30 177.51 L179.42 177.53 L179.79 177.60 L180.28 177.69 L180.77 177.79 L181.26 177.88 L181.75 177.97 L182.15 178.05 L182.24 178.06 L182.73 178.15 L183.22 178.25 L183.71 178.34 L184.20 178.43 L184.68 178.52 L184.88 178.55 L185.17 178.61 L185.66 178.70 L186.15 178.79 L186.64 178.88 L187.13 178.97 L187.60 179.05 L187.62 179.06 L188.11 179.15 L188.60 179.23 L189.09 179.32 L189.58 179.41 L190.06 179.49 L190.33 179.54 L190.55 179.58 L191.04 179.67 L191.53 179.75 L192.02 179.83 L192.51 179.92 L193.00 180.00 L193.06 180.01 L193.49 180.08 L193.98 180.17 L194.47 180.25 L194.96 180.33 L195.45 180.41 L195.78 180.47 L195.93 180.49 L196.42 180.57 L196.91 180.65 L197.40 180.73 L197.89 180.81 L198.38 180.88 L198.51 180.90 L198.87 180.96 L199.36 181.04 L199.85 181.11 L200.34 181.19 L200.83 181.26 L201.24 181.32 L201.31 181.33 L201.80 181.41 L202.29 181.48 L202.78 181.55 L203.27 181.62 L203.76 181.69 L203.96 181.72 L204.25 181.76 L204.74 181.83 L205.23 181.90 L205.72 181.97 L206.21 182.04 L206.69 182.10 L206.69 182.10 L207.18 182.17 L207.67 182.24 L208.16 182.30 L208.65 182.37 L209.14 182.43 L209.42 182.47 L209.63 182.50 L210.12 182.56 L210.61 182.62 L211.10 182.68 L211.59 182.75 L212.07 182.81 L212.15 182.82 L212.56 182.87 L213.05 182.93 L213.54 182.99 L214.03 183.05 L214.52 183.10 L214.87 183.15 L215.01 183.16 L215.50 183.22 L215.99 183.28 L216.48 183.33 L216.97 183.39 L217.46 183.45 L217.60 183.46 L217.94 183.50 L218.43 183.55 L218.92 183.61 L219.41 183.66 L219.90 183.72 L220.33 183.76 L220.39 183.77 L220.88 183.82 L221.37 183.87 L221.86 183.92 L222.35 183.97 L222.84 184.03 L223.05 184.05 L223.32 184.08 L223.81 184.12 L224.30 184.17 L224.79 184.22 L225.28 184.27 L225.77 184.32 L225.78 184.32 L226.26 184.37 L226.75 184.41 L227.24 184.46 L227.73 184.51 L228.22 184.55 L228.51 184.58 L228.70 184.60 L229.19 184.65 L229.68 184.69 L230.17 184.74 L230.66 184.78 L231.15 184.82 L231.23 184.83 L231.64 184.87 L232.13 184.91 L232.62 184.96 L233.11 185.00 L233.60 185.04 L233.96 185.07 L234.08 185.08 L234.57 185.13 L235.06 185.17 L235.55 185.21 L236.04 185.25 L236.53 185.29 L236.69 185.30 L237.02 185.33 L237.51 185.37 L238.00 185.41 L238.49 185.45 L238.98 185.49 L239.42 185.53 L239.47 185.53 L239.95 185.57 L240.44 185.62 L240.93 185.67 L241.42 185.73 L241.91 185.78 L242.40 185.83 L242.89 185.88 L243.38 185.92 L243.87 185.96 L244.36 185.98 L244.85 186.00 L299.14 186.00" fill="none" stroke="#1E64F0" stroke-width="2.90" stroke-linejoin="round" stroke-linecap="butt"/>
<path d="M55.07 186.00 L122.57 186.00 L123.06 185.95 L123.55 185.84 L124.03 185.70 L124.52 185.52 L125.01 185.32 L125.04 185.31 L125.50 184.98 L125.99 184.42 L126.48 183.77 L126.97 183.18 L127.44 182.79 L127.46 182.78 L127.95 182.57 L128.44 182.39 L128.54 182.35 L128.93 182.19 L129.42 181.98 L129.90 181.76 L130.39 181.54 L130.88 181.31 L131.37 181.09 L131.86 180.86 L132.35 180.64 L132.84 180.43 L133.33 180.23 L133.82 180.04 L134.31 179.87 L134.80 179.71 L134.97 179.66 L135.28 179.58 L135.77 179.44 L136.26 179.31 L136.75 179.18 L137.24 179.05 L137.73 178.93 L138.22 178.81 L138.71 178.70 L139.20 178.58 L139.69 178.47 L140.18 178.37 L140.66 178.26 L141.15 178.16 L141.64 178.07 L142.13 177.97 L142.62 177.88 L143.11 177.80 L143.60 177.72 L144.09 177.64 L144.58 177.57 L145.07 177.49 L145.56 177.43 L146.04 177.37 L146.53 177.31 L146.70 177.29 L147.02 177.25 L147.51 177.20 L148.00 177.16 L148.49 177.11 L148.98 177.08 L149.42 177.05 L149.47 177.05 L149.96 177.02 L150.45 176.99 L150.94 176.97 L151.43 176.95 L151.91 176.93 L155.34 176.92 L155.83 176.94 L156.32 176.95 L156.81 176.97 L157.29 177.00 L157.61 177.01 L157.78 177.02 L158.27 177.04 L158.76 177.07 L159.25 177.11 L159.74 177.14 L160.23 177.18 L160.33 177.18 L160.72 177.21 L161.21 177.26 L161.70 177.30 L162.19 177.35 L162.67 177.39 L163.06 177.43 L163.16 177.44 L163.65 177.49 L164.14 177.55 L164.63 177.60 L165.12 177.66 L165.61 177.72 L165.79 177.74 L166.10 177.78 L166.59 177.84 L167.08 177.90 L167.57 177.97 L168.05 178.03 L168.51 178.09 L168.54 178.10 L169.03 178.16 L169.52 178.23 L170.01 178.30 L170.50 178.37 L170.99 178.44 L171.24 178.48 L171.48 178.51 L171.97 178.59 L172.46 178.66 L172.95 178.73 L173.44 178.81 L173.92 178.88 L173.97 178.89 L174.41 178.95 L174.90 179.03 L175.39 179.11 L175.88 179.18 L176.37 179.26 L176.69 179.31 L176.86 179.33 L177.35 179.41 L177.84 179.49 L178.33 179.56 L178.82 179.64 L179.30 179.72 L179.42 179.73 L179.79 179.79 L180.28 179.87 L180.77 179.94 L181.26 180.02 L181.75 180.10 L182.15 180.16 L182.24 180.17 L182.73 180.25 L183.22 180.32 L183.71 180.40 L184.20 180.47 L184.68 180.55 L184.88 180.58 L185.17 180.62 L185.66 180.69 L186.15 180.77 L186.64 180.84 L187.13 180.91 L187.60 180.98 L187.62 180.98 L188.11 181.05 L188.60 181.12 L189.09 181.19 L189.58 181.26 L190.06 181.33 L190.33 181.37 L190.55 181.40 L191.04 181.47 L191.53 181.54 L192.02 181.60 L192.51 181.67 L193.00 181.74 L193.06 181.74 L193.49 181.80 L193.98 181.87 L194.47 181.93 L194.96 181.99 L195.45 182.06 L195.78 182.10 L195.93 182.12 L196.42 182.18 L196.91 182.24 L197.40 182.30 L197.89 182.36 L198.38 182.42 L198.51 182.44 L198.87 182.48 L199.36 182.54 L199.85 182.60 L200.34 182.65 L200.83 182.71 L201.24 182.75 L201.31 182.76 L201.80 182.82 L202.29 182.87 L202.78 182.93 L203.27 182.98 L203.76 183.03 L203.96 183.05 L204.25 183.08 L204.74 183.14 L205.23 183.19 L205.72 183.24 L206.21 183.29 L206.69 183.34 L206.69 183.34 L207.18 183.39 L207.67 183.43 L208.16 183.48 L208.65 183.53 L209.14 183.57 L209.42 183.60 L209.63 183.62 L210.12 183.67 L210.61 183.71 L211.10 183.76 L211.59 183.80 L212.07 183.84 L212.15 183.85 L212.56 183.89 L213.05 183.93 L213.54 183.97 L214.03 184.01 L214.52 184.06 L214.87 184.09 L215.01 184.10 L215.50 184.14 L215.99 184.18 L216.48 184.22 L216.97 184.26 L217.46 184.30 L217.60 184.31 L217.94 184.33 L218.43 184.37 L218.92 184.41 L219.41 184.45 L219.90 184.49 L220.33 184.52 L220.39 184.52 L220.88 184.56 L221.37 184.60 L221.86 184.63 L222.35 184.67 L222.84 184.70 L223.05 184.72 L223.32 184.74 L223.81 184.77 L224.30 184.81 L224.79 184.84 L225.28 184.88 L225.77 184.91 L225.78 184.91 L226.26 184.94 L226.75 184.98 L227.24 185.01 L227.73 185.04 L228.22 185.08 L228.51 185.10 L228.70 185.11 L229.19 185.14 L229.68 185.17 L230.17 185.21 L230.66 185.24 L231.15 185.27 L231.23 185.28 L231.64 185.30 L232.13 185.33 L232.62 185.37 L233.11 185.40 L233.60 185.43 L233.96 185.45 L234.08 185.46 L234.57 185.49 L235.06 185.52 L235.55 185.55 L236.04 185.58 L236.53 185.61 L236.69 185.62 L237.02 185.65 L237.51 185.68 L238.00 185.71 L238.49 185.74 L238.98 185.77 L239.42 185.79 L239.47 185.80 L239.95 185.82 L240.44 185.84 L240.93 185.87 L241.42 185.89 L241.91 185.92 L242.40 185.94 L242.89 185.96 L243.38 185.97 L243.87 185.98 L244.36 185.99 L244.85 186.00 L299.14 186.00" fill="none" stroke="#0000C2" stroke-width="2.90" stroke-linejoin="round" stroke-linecap="butt"/>
</g>
<rect x="51.30" y="3.80" width="248.00" height="199.50" fill="none" stroke="#000" stroke-width="1.35"/>
<line x1="65.16" y1="203.30" x2="65.16" y2="200.10" stroke="#000" stroke-width="1.20"/>
<line x1="119.70" y1="203.30" x2="119.70" y2="200.10" stroke="#000" stroke-width="1.20"/>
<line x1="174.24" y1="203.30" x2="174.24" y2="200.10" stroke="#000" stroke-width="1.20"/>
<line x1="228.78" y1="203.30" x2="228.78" y2="200.10" stroke="#000" stroke-width="1.20"/>
<line x1="283.32" y1="203.30" x2="283.32" y2="200.10" stroke="#000" stroke-width="1.20"/>
<line x1="92.43" y1="203.30" x2="92.43" y2="201.60" stroke="#000" stroke-width="1.20"/>
<line x1="146.97" y1="203.30" x2="146.97" y2="201.60" stroke="#000" stroke-width="1.20"/>
<line x1="201.51" y1="203.30" x2="201.51" y2="201.60" stroke="#000" stroke-width="1.20"/>
<line x1="256.05" y1="203.30" x2="256.05" y2="201.60" stroke="#000" stroke-width="1.20"/>
<line x1="51.30" y1="186.00" x2="54.50" y2="186.00" stroke="#000" stroke-width="1.20"/>
<line x1="51.30" y1="142.60" x2="54.50" y2="142.60" stroke="#000" stroke-width="1.20"/>
<line x1="51.30" y1="99.20" x2="54.50" y2="99.20" stroke="#000" stroke-width="1.20"/>
<line x1="51.30" y1="55.80" x2="54.50" y2="55.80" stroke="#000" stroke-width="1.20"/>
<line x1="51.30" y1="12.40" x2="54.50" y2="12.40" stroke="#000" stroke-width="1.20"/>
<line x1="51.30" y1="164.30" x2="53.00" y2="164.30" stroke="#000" stroke-width="1.20"/>
<line x1="51.30" y1="120.90" x2="53.00" y2="120.90" stroke="#000" stroke-width="1.20"/>
<line x1="51.30" y1="77.50" x2="53.00" y2="77.50" stroke="#000" stroke-width="1.20"/>
<line x1="51.30" y1="34.10" x2="53.00" y2="34.10" stroke="#000" stroke-width="1.20"/>
<text x="64.96" y="217.20" font-size="11.70" text-anchor="middle"  >-20</text>
<text x="119.70" y="217.20" font-size="11.70" text-anchor="middle"  >0</text>
<text x="174.24" y="217.20" font-size="11.70" text-anchor="middle"  >20</text>
<text x="228.78" y="217.20" font-size="11.70" text-anchor="middle"  >40</text>
<text x="283.32" y="217.20" font-size="11.70" text-anchor="middle"  >60</text>
<text x="46.40" y="189.50" font-size="11.70" text-anchor="end"  >0.0</text>
<text x="46.40" y="146.10" font-size="11.70" text-anchor="end"  >5.0</text>
<text x="46.40" y="102.70" font-size="11.70" text-anchor="end"  >10.0</text>
<text x="46.40" y="59.30" font-size="11.70" text-anchor="end"  >15.0</text>
<text x="46.40" y="15.90" font-size="11.70" text-anchor="end"  >20.0</text>
<text x="-0.50" y="12.80" font-size="16.60" text-anchor="start"  >(a)</text>
<text transform="translate(19.2,103) rotate(-90)" font-size="14.2" text-anchor="middle">Coseismic slip (mm)</text>
<text x="156.0" y="238.6" font-size="14"><tspan font-style="italic">F</tspan><tspan font-size="9.8" dy="3.2">d</tspan><tspan dy="-3.2"> (m)</tspan></text>
<rect x="80.50" y="7.50" width="182.00" height="19.00" fill="#fff" stroke="#1a1a1a" stroke-width="1"/>
<text x="81.60" y="19.35" font-size="11.8"><tspan letter-spacing="0.25">Note</tspan><tspan font-family="'Liberation Sans', 'Noto Serif CJK SC', serif">：</tspan><tspan font-style="italic" dx="-2.5">μ</tspan><tspan font-style="italic" font-size="9.2" dy="3.2">s</tspan><tspan dy="-3.2" dx="0.1"> = 0.27</tspan><tspan font-family="'Liberation Sans', 'Noto Serif CJK SC', serif">；</tspan><tspan font-style="italic" dx="-0.9">r</tspan><tspan dx="0.4"> =</tspan><tspan dx="0.7"> 0.5;</tspan><tspan font-style="italic" dx="0.5"> φ</tspan><tspan dx="0.8"> =</tspan><tspan dx="0.3"> 75</tspan><tspan dx="0.3">°</tspan></text>
<rect x="307.00" y="20.00" width="14.00" height="18.65" fill="#7A0000"/>
<line x1="321.00" y1="29.18" x2="324.60" y2="29.18" stroke="#222" stroke-width="0.75"/>
<text x="330.00" y="33.08" font-size="10.60" text-anchor="start" font-style="italic" >1</text>
<rect x="307.00" y="38.35" width="14.00" height="18.65" fill="#E80000"/>
<line x1="321.00" y1="47.53" x2="324.60" y2="47.53" stroke="#222" stroke-width="0.75"/>
<text x="330.00" y="51.43" font-size="10.60" text-anchor="start" font-style="italic" >2</text>
<rect x="307.00" y="56.70" width="14.00" height="18.65" fill="#FF5F00"/>
<line x1="321.00" y1="65.88" x2="324.60" y2="65.88" stroke="#222" stroke-width="0.75"/>
<text x="330.00" y="69.78" font-size="10.60" text-anchor="start" font-style="italic" >3</text>
<rect x="307.00" y="75.05" width="14.00" height="18.65" fill="#FF9C05"/>
<line x1="321.00" y1="84.23" x2="324.60" y2="84.23" stroke="#222" stroke-width="0.75"/>
<text x="330.00" y="88.13" font-size="10.60" text-anchor="start" font-style="italic" >4</text>
<rect x="307.00" y="93.40" width="14.00" height="18.65" fill="#F9D83E"/>
<line x1="321.00" y1="102.58" x2="324.60" y2="102.58" stroke="#222" stroke-width="0.75"/>
<text x="330.00" y="106.48" font-size="10.60" text-anchor="start" font-style="italic" >5</text>
<rect x="307.00" y="111.75" width="14.00" height="18.65" fill="#A6FAD3"/>
<line x1="321.00" y1="120.93" x2="324.60" y2="120.93" stroke="#222" stroke-width="0.75"/>
<text x="330.00" y="124.83" font-size="10.60" text-anchor="start" font-style="italic" >6</text>
<rect x="307.00" y="130.10" width="14.00" height="18.65" fill="#47D6F9"/>
<line x1="321.00" y1="139.28" x2="324.60" y2="139.28" stroke="#222" stroke-width="0.75"/>
<text x="330.00" y="143.18" font-size="10.60" text-anchor="start" font-style="italic" >7</text>
<rect x="307.00" y="148.45" width="14.00" height="18.65" fill="#2AA9F5"/>
<line x1="321.00" y1="157.62" x2="324.60" y2="157.62" stroke="#222" stroke-width="0.75"/>
<text x="330.00" y="161.53" font-size="10.60" text-anchor="start" font-style="italic" >8</text>
<rect x="307.00" y="166.80" width="14.00" height="18.65" fill="#1E64F0"/>
<line x1="321.00" y1="175.98" x2="324.60" y2="175.98" stroke="#222" stroke-width="0.75"/>
<text x="330.00" y="179.88" font-size="10.60" text-anchor="start" font-style="italic" >9</text>
<rect x="307.00" y="185.15" width="14.00" height="18.65" fill="#0000C2"/>
<line x1="321.00" y1="194.33" x2="324.60" y2="194.33" stroke="#222" stroke-width="0.75"/>
<text x="330.00" y="198.23" font-size="10.60" text-anchor="start" font-style="italic" >10</text>
<text x="305.30" y="13.00" font-size="10.90" text-anchor="start" font-style="italic" >D (m)</text>
<g clip-path="url(#cb)">
<path d="M404.29 181.30 L450.80 181.30 L451.28 181.38 L451.77 181.60 L452.26 181.90 L452.75 182.25 L452.98 182.41 L453.24 182.63 L453.73 183.18 L454.22 183.82 L454.71 184.43 L455.16 184.85 L455.20 184.88 L455.69 185.25 L456.18 185.60 L456.67 185.91 L457.16 186.15 L457.65 186.28 L457.88 186.30 L458.14 186.28 L458.63 186.19 L459.11 186.02 L459.60 185.78 L460.05 185.52 L460.09 185.49 L460.58 184.82 L461.07 183.84 L461.41 183.19 L461.56 182.95 L462.05 182.28 L462.50 181.30 L462.54 181.14 L463.03 175.85 L463.52 167.67 L463.70 164.98 L464.01 160.79 L464.50 154.62 L464.99 148.17 L465.48 140.55 L465.79 134.68 L465.97 130.57 L466.46 115.28 L466.95 98.16 L467.21 90.06 L467.44 83.05 L467.93 68.11 L468.38 59.20 L468.42 58.78 L468.90 54.05 L469.39 50.15 L469.88 47.26 L470.37 45.57 L470.71 45.21 L470.86 45.30 L471.35 46.65 L471.84 49.36 L472.33 53.05 L472.82 57.32 L473.03 59.20 L473.31 62.56 L473.80 71.00 L474.29 80.83 L474.78 89.81 L474.79 90.06 L475.27 98.04 L475.76 106.26 L476.25 112.74 L476.54 115.03 L476.74 115.98 L477.19 117.48 L477.23 117.59 L477.72 118.97 L478.21 120.24 L478.69 121.42 L479.18 122.52 L479.67 123.56 L480.16 124.55 L480.65 125.51 L481.14 126.45 L481.63 127.39 L482.12 128.34 L482.61 129.32 L483.10 130.35 L483.55 131.35 L483.59 131.43 L484.08 132.57 L484.57 133.72 L485.06 134.90 L485.55 136.07 L486.04 137.25 L486.53 138.42 L487.02 139.57 L487.06 139.68 L487.51 140.71 L487.99 141.88 L488.48 143.05 L488.97 144.21 L489.46 145.36 L489.95 146.49 L490.44 147.59 L490.93 148.65 L491.42 149.65 L491.71 150.22 L491.91 150.60 L492.40 151.52 L492.89 152.43 L493.38 153.33 L493.87 154.22 L494.36 155.09 L494.85 155.95 L495.34 156.80 L495.83 157.63 L496.32 158.45 L496.81 159.26 L497.30 160.05 L497.78 160.83 L498.27 161.59 L498.76 162.34 L499.25 163.07 L499.74 163.79 L500.23 164.49 L500.72 165.18 L501.21 165.85 L501.70 166.51 L502.19 167.14 L502.68 167.77 L503.17 168.38 L503.30 168.54 L503.66 168.97 L504.15 169.55 L504.64 170.13 L505.13 170.70 L505.62 171.26 L506.11 171.80 L506.60 172.33 L507.09 172.85 L507.57 173.36 L508.06 173.85 L508.55 174.32 L509.04 174.78 L509.53 175.22 L510.02 175.64 L510.51 176.04 L511.00 176.42 L511.46 176.75 L511.49 176.77 L511.98 177.11 L512.47 177.44 L512.96 177.77 L513.45 178.08 L513.94 178.39 L514.43 178.68 L514.92 178.97 L515.41 179.24 L515.90 179.49 L516.39 179.74 L516.87 179.97 L517.36 180.18 L517.85 180.38 L518.34 180.57 L518.53 180.63 L518.83 180.74 L519.32 180.92 L519.81 181.09 L520.30 181.22 L520.79 181.29 L520.98 181.30 L648.55 181.30" fill="none" stroke="#5590EE" stroke-width="2.80" stroke-linejoin="round" stroke-linecap="butt"/>
<path d="M404.29 181.30 L463.32 181.30 L463.52 181.23 L464.01 180.65 L464.27 180.19 L464.50 179.44 L464.99 176.14 L465.48 171.27 L465.97 165.75 L466.04 164.98 L466.46 159.00 L466.95 150.20 L467.44 141.58 L467.78 136.90 L467.93 135.23 L468.42 130.06 L468.90 125.85 L469.30 123.58 L469.39 123.19 L469.88 121.28 L470.37 119.82 L470.86 119.15 L470.93 119.14 L471.35 119.58 L471.84 120.93 L472.33 122.71 L472.56 123.58 L472.82 124.65 L473.31 127.25 L473.80 130.18 L474.20 132.46 L474.29 132.96 L474.78 135.45 L475.27 138.00 L475.61 140.01 L475.76 141.10 L476.25 145.46 L476.54 146.89 L476.74 147.17 L477.19 147.56 L477.23 147.59 L477.72 148.05 L478.21 148.50 L478.69 148.93 L479.18 149.34 L479.67 149.75 L480.16 150.15 L480.65 150.55 L481.14 150.95 L481.63 151.34 L482.12 151.74 L482.61 152.14 L483.10 152.54 L483.59 152.96 L484.08 153.39 L484.57 153.83 L485.06 154.28 L485.55 154.76 L485.89 155.10 L486.04 155.25 L486.53 155.78 L487.02 156.33 L487.51 156.90 L487.99 157.49 L488.48 158.10 L488.97 158.71 L489.46 159.33 L489.95 159.95 L490.44 160.56 L490.93 161.17 L491.42 161.76 L491.71 162.10 L491.91 162.33 L492.40 162.90 L492.89 163.48 L493.38 164.06 L493.87 164.64 L494.36 165.22 L494.85 165.81 L495.34 166.39 L495.83 166.98 L496.32 167.56 L496.81 168.13 L497.30 168.71 L497.78 169.27 L498.27 169.83 L498.76 170.39 L499.25 170.93 L499.74 171.46 L500.23 171.99 L500.72 172.50 L501.21 173.00 L501.70 173.49 L502.19 173.96 L502.68 174.42 L503.17 174.86 L503.30 174.97 L503.66 175.29 L504.15 175.72 L504.64 176.14 L505.13 176.57 L505.62 176.98 L506.11 177.39 L506.60 177.79 L507.09 178.17 L507.57 178.54 L508.06 178.89 L508.55 179.21 L509.04 179.51 L509.53 179.79 L510.02 180.03 L510.37 180.19 L510.51 180.25 L511.00 180.46 L511.49 180.67 L511.98 180.87 L512.47 181.04 L512.96 181.18 L513.45 181.27 L513.91 181.30 L648.55 181.30" fill="none" stroke="#B3D5EA" stroke-width="2.80" stroke-linejoin="round" stroke-linecap="butt"/>
<path d="M404.29 181.30 L464.99 181.30 L465.48 181.14 L465.97 180.80 L466.04 180.75 L466.46 179.92 L466.95 177.95 L467.44 175.25 L467.93 172.17 L468.42 169.09 L468.90 166.35 L469.30 164.65 L469.39 164.31 L469.88 162.44 L470.37 160.61 L470.86 159.09 L471.35 158.16 L471.64 157.99 L471.84 158.06 L472.33 158.74 L472.82 159.86 L473.31 161.10 L473.65 161.88 L473.80 162.19 L474.29 163.43 L474.78 164.77 L475.27 165.93 L475.76 166.65 L475.96 166.76 L476.25 166.81 L476.74 166.89 L477.23 166.94 L477.72 166.99 L478.21 167.03 L478.69 167.05 L479.18 167.08 L479.67 167.10 L480.16 167.12 L480.65 167.15 L481.14 167.18 L481.63 167.23 L482.12 167.28 L482.36 167.31 L482.61 167.36 L483.10 167.47 L483.59 167.62 L484.08 167.80 L484.57 168.02 L485.06 168.26 L485.55 168.53 L486.04 168.82 L486.53 169.13 L487.02 169.45 L487.51 169.78 L487.99 170.12 L488.48 170.47 L488.97 170.82 L489.46 171.17 L489.95 171.51 L490.44 171.84 L490.93 172.16 L491.42 172.47 L491.71 172.64 L491.91 172.76 L492.40 173.05 L492.89 173.34 L493.38 173.64 L493.87 173.95 L494.36 174.25 L494.85 174.56 L495.34 174.87 L495.83 175.17 L496.32 175.48 L496.81 175.79 L497.30 176.10 L497.78 176.41 L498.27 176.72 L498.76 177.02 L499.25 177.32 L499.74 177.62 L500.23 177.92 L500.72 178.20 L501.21 178.49 L501.70 178.77 L502.19 179.04 L502.68 179.31 L503.17 179.57 L503.30 179.64 L503.66 179.83 L504.15 180.13 L504.64 180.44 L505.13 180.73 L505.62 180.99 L506.11 181.18 L506.60 181.29 L506.84 181.30 L648.55 181.30" fill="none" stroke="#F77B3B" stroke-width="2.80" stroke-linejoin="round" stroke-linecap="butt"/>
<path d="M404.29 181.30 L467.12 181.30 L467.44 181.25 L467.93 181.00 L468.42 180.59 L468.90 180.09 L469.39 179.55 L469.88 179.04 L470.37 178.63 L470.86 178.36 L471.20 178.30 L471.35 178.31 L471.84 178.47 L472.33 178.76 L472.82 179.12 L473.31 179.49 L473.80 179.79 L474.29 179.95 L474.47 179.97 L474.78 179.95 L475.27 179.83 L475.76 179.63 L476.25 179.39 L476.74 179.11 L477.23 178.83 L477.72 178.57 L478.21 178.36 L478.69 178.21 L478.82 178.19 L479.18 178.14 L479.67 178.06 L480.16 177.99 L480.65 177.93 L481.14 177.87 L481.63 177.82 L482.12 177.77 L482.61 177.73 L483.10 177.69 L483.59 177.67 L484.08 177.65 L484.57 177.64 L485.06 177.64 L485.55 177.66 L486.04 177.70 L486.53 177.75 L487.02 177.82 L487.51 177.90 L487.99 178.00 L488.48 178.10 L488.97 178.21 L489.46 178.33 L489.95 178.45 L490.44 178.58 L490.93 178.70 L491.42 178.83 L491.91 178.95 L492.40 179.08 L492.42 179.08 L492.89 179.21 L493.38 179.37 L493.87 179.56 L494.36 179.76 L494.85 179.97 L495.34 180.18 L495.83 180.40 L496.32 180.60 L496.81 180.79 L497.30 180.96 L497.78 181.10 L498.27 181.21 L498.76 181.28 L499.22 181.30 L648.55 181.30" fill="none" stroke="#FCAB9B" stroke-width="2.80" stroke-linejoin="round" stroke-linecap="butt"/>
<path d="M404.29 181.30 L648.55 181.30" fill="none" stroke="#FB8598" stroke-width="3.30" stroke-linejoin="round" stroke-linecap="butt"/>
</g>
<rect x="400.70" y="3.80" width="248.00" height="199.50" fill="none" stroke="#000" stroke-width="1.35"/>
<line x1="413.99" y1="203.30" x2="413.99" y2="200.10" stroke="#000" stroke-width="1.20"/>
<line x1="468.55" y1="203.30" x2="468.55" y2="200.10" stroke="#000" stroke-width="1.20"/>
<line x1="523.11" y1="203.30" x2="523.11" y2="200.10" stroke="#000" stroke-width="1.20"/>
<line x1="577.67" y1="203.30" x2="577.67" y2="200.10" stroke="#000" stroke-width="1.20"/>
<line x1="632.23" y1="203.30" x2="632.23" y2="200.10" stroke="#000" stroke-width="1.20"/>
<line x1="441.27" y1="203.30" x2="441.27" y2="201.60" stroke="#000" stroke-width="1.20"/>
<line x1="495.83" y1="203.30" x2="495.83" y2="201.60" stroke="#000" stroke-width="1.20"/>
<line x1="550.39" y1="203.30" x2="550.39" y2="201.60" stroke="#000" stroke-width="1.20"/>
<line x1="604.95" y1="203.30" x2="604.95" y2="201.60" stroke="#000" stroke-width="1.20"/>
<line x1="400.70" y1="181.30" x2="403.90" y2="181.30" stroke="#000" stroke-width="1.20"/>
<line x1="400.70" y1="125.80" x2="403.90" y2="125.80" stroke="#000" stroke-width="1.20"/>
<line x1="400.70" y1="70.30" x2="403.90" y2="70.30" stroke="#000" stroke-width="1.20"/>
<line x1="400.70" y1="14.80" x2="403.90" y2="14.80" stroke="#000" stroke-width="1.20"/>
<line x1="400.70" y1="153.55" x2="402.40" y2="153.55" stroke="#000" stroke-width="1.20"/>
<line x1="400.70" y1="98.05" x2="402.40" y2="98.05" stroke="#000" stroke-width="1.20"/>
<line x1="400.70" y1="42.55" x2="402.40" y2="42.55" stroke="#000" stroke-width="1.20"/>
<text x="413.79" y="217.20" font-size="11.70" text-anchor="middle"  >-20</text>
<text x="468.55" y="217.20" font-size="11.70" text-anchor="middle"  >0</text>
<text x="523.11" y="217.20" font-size="11.70" text-anchor="middle"  >20</text>
<text x="577.67" y="217.20" font-size="11.70" text-anchor="middle"  >40</text>
<text x="632.23" y="217.20" font-size="11.70" text-anchor="middle"  >60</text>
<text x="396.00" y="184.80" font-size="11.70" text-anchor="end"  >0.0</text>
<text x="396.00" y="129.30" font-size="11.70" text-anchor="end"  >5.0</text>
<text x="396.00" y="73.80" font-size="11.70" text-anchor="end"  >10.0</text>
<text x="396.00" y="18.30" font-size="11.70" text-anchor="end"  >15.0</text>
<text x="345.40" y="12.80" font-size="16.60" text-anchor="start"  >(b)</text>
<text transform="translate(367.8,103) rotate(-90)" font-size="14.2" text-anchor="middle">Coseismic slip (mm)</text>
<text x="505.2" y="238.6" font-size="14"><tspan font-style="italic">F</tspan><tspan font-size="9.8" dy="3.2">d</tspan><tspan dy="-3.2"> (m)</tspan></text>
<rect x="429.50" y="7.50" width="182.50" height="19.00" fill="#fff" stroke="#1a1a1a" stroke-width="1"/>
<text x="431.00" y="19.35" font-size="11.8"><tspan letter-spacing="0.25">Note</tspan><tspan font-family="'Liberation Sans', 'Noto Serif CJK SC', serif">：</tspan><tspan font-style="italic" dx="-2.5">μ</tspan><tspan font-style="italic" font-size="9.2" dy="3.2">s</tspan><tspan dy="-3.2" dx="0.1"> = 0.37</tspan><tspan font-family="'Liberation Sans', 'Noto Serif CJK SC', serif">；</tspan><tspan font-style="italic" dx="-0.9">r</tspan><tspan dx="0.4"> =</tspan><tspan dx="0.7"> 0.5;</tspan><tspan font-style="italic" dx="0.5"> φ</tspan><tspan dx="0.8"> =</tspan><tspan dx="0.3"> 75</tspan><tspan dx="0.3">°</tspan></text>
<rect x="656.30" y="19.90" width="14.30" height="37.05" fill="#5590EE"/>
<line x1="670.60" y1="38.27" x2="674.20" y2="38.27" stroke="#222" stroke-width="0.75"/>
<text x="679.10" y="42.17" font-size="10.60" text-anchor="start" font-style="italic" >1</text>
<rect x="656.30" y="56.65" width="14.30" height="37.05" fill="#B3D5EA"/>
<line x1="670.60" y1="75.03" x2="674.20" y2="75.03" stroke="#222" stroke-width="0.75"/>
<text x="679.10" y="78.93" font-size="10.60" text-anchor="start" font-style="italic" >2</text>
<rect x="656.30" y="93.40" width="14.30" height="37.05" fill="#F77B3B"/>
<line x1="670.60" y1="111.78" x2="674.20" y2="111.78" stroke="#222" stroke-width="0.75"/>
<text x="679.10" y="115.68" font-size="10.60" text-anchor="start" font-style="italic" >3</text>
<rect x="656.30" y="130.15" width="14.30" height="37.05" fill="#FCAB9B"/>
<line x1="670.60" y1="148.53" x2="674.20" y2="148.53" stroke="#222" stroke-width="0.75"/>
<text x="679.10" y="152.43" font-size="10.60" text-anchor="start" font-style="italic" >4</text>
<rect x="656.30" y="166.90" width="14.30" height="37.05" fill="#FB8598"/>
<line x1="670.60" y1="185.28" x2="674.20" y2="185.28" stroke="#222" stroke-width="0.75"/>
<text x="679.10" y="189.18" font-size="10.60" text-anchor="start" font-style="italic" >5</text>
<text x="655.00" y="13.00" font-size="10.90" text-anchor="start" font-style="italic" >D (m)</text>
<rect x="66.65" y="282.26" width="9.50" height="184.49" fill="#1F77B4"/>
<rect x="90.80" y="355.01" width="9.50" height="111.74" fill="#1F77B4"/>
<rect x="114.95" y="409.21" width="9.50" height="57.54" fill="#1F77B4"/>
<rect x="139.10" y="434.42" width="9.50" height="32.33" fill="#1F77B4"/>
<rect x="163.25" y="444.69" width="9.50" height="22.06" fill="#1F77B4"/>
<rect x="187.40" y="450.82" width="9.50" height="15.93" fill="#1F77B4"/>
<rect x="211.55" y="453.91" width="9.50" height="12.84" fill="#1F77B4"/>
<rect x="235.70" y="458.19" width="9.50" height="8.56" fill="#1F77B4"/>
<rect x="259.85" y="461.04" width="9.50" height="5.71" fill="#1F77B4"/>
<rect x="284.00" y="463.90" width="9.50" height="2.85" fill="#1F77B4"/>
<rect x="76.15" y="449.44" width="9.50" height="17.31" fill="#B0582A"/>
<rect x="100.30" y="462.00" width="9.50" height="4.75" fill="#B0582A"/>
<rect x="124.45" y="465.18" width="9.50" height="1.57" fill="#B0582A"/>
<rect x="52.20" y="264.60" width="265.80" height="214.30" fill="none" stroke="#000" stroke-width="1.55"/>
<line x1="100.30" y1="478.90" x2="100.30" y2="474.90" stroke="#000" stroke-width="1.20"/>
<line x1="148.60" y1="478.90" x2="148.60" y2="474.90" stroke="#000" stroke-width="1.20"/>
<line x1="196.90" y1="478.90" x2="196.90" y2="474.90" stroke="#000" stroke-width="1.20"/>
<line x1="245.20" y1="478.90" x2="245.20" y2="474.90" stroke="#000" stroke-width="1.20"/>
<line x1="293.50" y1="478.90" x2="293.50" y2="474.90" stroke="#000" stroke-width="1.20"/>
<line x1="76.15" y1="478.90" x2="76.15" y2="476.70" stroke="#000" stroke-width="1.20"/>
<line x1="124.45" y1="478.90" x2="124.45" y2="476.70" stroke="#000" stroke-width="1.20"/>
<line x1="172.75" y1="478.90" x2="172.75" y2="476.70" stroke="#000" stroke-width="1.20"/>
<line x1="221.05" y1="478.90" x2="221.05" y2="476.70" stroke="#000" stroke-width="1.20"/>
<line x1="269.35" y1="478.90" x2="269.35" y2="476.70" stroke="#000" stroke-width="1.20"/>
<line x1="52.20" y1="466.75" x2="56.20" y2="466.75" stroke="#000" stroke-width="1.20"/>
<line x1="52.20" y1="419.20" x2="56.20" y2="419.20" stroke="#000" stroke-width="1.20"/>
<line x1="52.20" y1="371.65" x2="56.20" y2="371.65" stroke="#000" stroke-width="1.20"/>
<line x1="52.20" y1="324.10" x2="56.20" y2="324.10" stroke="#000" stroke-width="1.20"/>
<line x1="52.20" y1="276.55" x2="56.20" y2="276.55" stroke="#000" stroke-width="1.20"/>
<line x1="52.20" y1="442.98" x2="54.40" y2="442.98" stroke="#000" stroke-width="1.20"/>
<line x1="52.20" y1="395.43" x2="54.40" y2="395.43" stroke="#000" stroke-width="1.20"/>
<line x1="52.20" y1="347.88" x2="54.40" y2="347.88" stroke="#000" stroke-width="1.20"/>
<line x1="52.20" y1="300.33" x2="54.40" y2="300.33" stroke="#000" stroke-width="1.20"/>
<text x="52.00" y="495.40" font-size="14.60" text-anchor="middle"  >0</text>
<text x="100.30" y="495.40" font-size="14.60" text-anchor="middle"  >2</text>
<text x="148.60" y="495.40" font-size="14.60" text-anchor="middle"  >4</text>
<text x="196.90" y="495.40" font-size="14.60" text-anchor="middle"  >6</text>
<text x="245.20" y="495.40" font-size="14.60" text-anchor="middle"  >8</text>
<text x="293.50" y="495.40" font-size="14.60" text-anchor="middle"  >10</text>
<text x="47.50" y="471.05" font-size="14.60" text-anchor="end"  >0</text>
<text x="47.50" y="423.50" font-size="14.60" text-anchor="end"  >10</text>
<text x="47.50" y="375.95" font-size="14.60" text-anchor="end"  >20</text>
<text x="47.50" y="328.40" font-size="14.60" text-anchor="end"  >30</text>
<text x="47.50" y="280.85" font-size="14.60" text-anchor="end"  >40</text>
<text x="-1.40" y="276.00" font-size="16.60" text-anchor="start"  >(c)</text>
<text transform="translate(22.4,371.6) rotate(-90)" font-size="15" text-anchor="middle"><tspan font-style="italic">M</tspan><tspan font-size="10.5" dy="3.2">0</tspan><tspan dy="-3.2"> (10</tspan><tspan font-size="10.5" dy="-5.4">9</tspan><tspan dy="5.4"> Nm)</tspan></text>
<text x="184.8" y="518.1" font-size="14.8" text-anchor="middle"><tspan font-style="italic">D</tspan> (m)</text>
<rect x="219.0" y="268.3" width="95.6" height="42.6" fill="#ddd" opacity="0.6"/>
<rect x="218.4" y="267.4" width="95.5" height="42.6" fill="#fff" stroke="#c8c8c8" stroke-width="0.8"/>
<rect x="220.9" y="270.2" width="30.7" height="14.6" fill="#1F77B4"/>
<rect x="220.9" y="290.3" width="30.7" height="15.0" fill="#B0582A" stroke="#3b7fc0" stroke-width="0.5"/>
<text x="255.4" y="281.40" font-size="13.7"><tspan font-style="italic">μ</tspan><tspan font-size="9.6" dy="3">s</tspan><tspan dy="-3"> = 0.27</tspan></text>
<text x="255.4" y="301.70" font-size="13.7"><tspan font-style="italic">μ</tspan><tspan font-size="9.6" dy="3">s</tspan><tspan dy="-3"> = 0.37</tspan></text>
</svg>
</body></html>
